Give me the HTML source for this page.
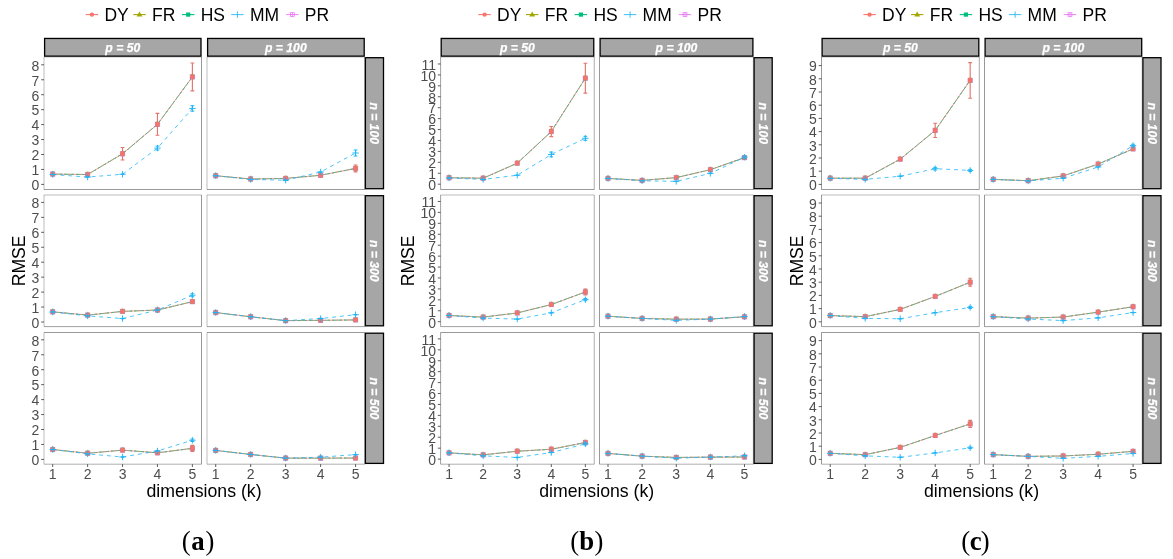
<!DOCTYPE html>
<html lang="en">
<head>
<meta charset="utf-8">
<title>RMSE vs dimensions (k)</title>
<style>
html,body{margin:0;padding:0;background:#fff;}
body{width:1173px;height:559px;overflow:hidden;}
svg{display:block;}
</style>
</head>
<body>
<svg width="1173" height="559" viewBox="0 0 1173 559">
<rect width="1173" height="559" fill="#fff"/>
<g font-family="'Liberation Sans', Arial, Helvetica, sans-serif" font-size="17.5" fill="#000">
<line x1="85.7" y1="14.6" x2="98.1" y2="14.6" stroke="#F8766D" stroke-width="1.1"/>
<circle cx="91.9" cy="14.6" r="2.2" fill="#F8766D"/>
<text x="104.4" y="20.9">DY</text>
<line x1="133.3" y1="14.6" x2="145.7" y2="14.6" stroke="#A3A500" stroke-width="1.1"/>
<path d="M139.5 11.6L142.4 16.5L136.6 16.5Z" fill="#A3A500"/>
<text x="152" y="20.9">FR</text>
<line x1="182" y1="14.6" x2="194.4" y2="14.6" stroke="#00BF7D" stroke-width="1.1"/>
<rect x="186.1" y="12.5" width="4.2" height="4.2" fill="#00BF7D"/>
<text x="200.7" y="20.9">HS</text>
<line x1="231.2" y1="14.6" x2="243.6" y2="14.6" stroke="#1FB5F6" stroke-width="0.85"/>
<line x1="237.4" y1="11.4" x2="237.4" y2="17.8" stroke="#1FB5F6" stroke-width="0.85"/>
<text x="249.9" y="20.9">MM</text>
<line x1="286.1" y1="14.6" x2="298.5" y2="14.6" stroke="#E76BF3" stroke-width="0.85"/>
<rect x="290.4" y="12.7" width="3.8" height="3.8" fill="none" stroke="#E76BF3" stroke-width="0.7"/>
<line x1="292.3" y1="12.7" x2="292.3" y2="16.5" stroke="#E76BF3" stroke-width="0.7"/>
<text x="304.8" y="20.9">PR</text>
</g>
<rect x="44.6" y="38.45" width="156.4" height="17.7" fill="#a6a6a6" stroke="#000" stroke-width="1.3"/>
<text x="122.75" y="51.6" text-anchor="middle" font-family="'Liberation Sans', Arial, Helvetica, sans-serif" font-size="12.2" font-weight="bold" font-style="italic" fill="#fff" stroke="#fff" stroke-width="0.25">p = 50</text>
<rect x="207.6" y="38.45" width="156.6" height="17.7" fill="#a6a6a6" stroke="#000" stroke-width="1.3"/>
<text x="285.85" y="51.6" text-anchor="middle" font-family="'Liberation Sans', Arial, Helvetica, sans-serif" font-size="12.2" font-weight="bold" font-style="italic" fill="#fff" stroke="#fff" stroke-width="0.25">p = 100</text>
<rect x="365.4" y="57.7" width="18.1" height="131" fill="#a6a6a6" stroke="#000" stroke-width="1.3"/>
<text transform="translate(370.15 123.25) rotate(90)" text-anchor="middle" font-family="'Liberation Sans', Arial, Helvetica, sans-serif" font-size="12.2" font-weight="bold" font-style="italic" fill="#fff" stroke="#fff" stroke-width="0.25">n = 100</text>
<rect x="365.4" y="195.7" width="18.1" height="130.1" fill="#a6a6a6" stroke="#000" stroke-width="1.3"/>
<text transform="translate(370.15 260.8) rotate(90)" text-anchor="middle" font-family="'Liberation Sans', Arial, Helvetica, sans-serif" font-size="12.2" font-weight="bold" font-style="italic" fill="#fff" stroke="#fff" stroke-width="0.25">n = 300</text>
<rect x="365.4" y="333.2" width="18.1" height="130.2" fill="#a6a6a6" stroke="#000" stroke-width="1.3"/>
<text transform="translate(370.15 398.35) rotate(90)" text-anchor="middle" font-family="'Liberation Sans', Arial, Helvetica, sans-serif" font-size="12.2" font-weight="bold" font-style="italic" fill="#fff" stroke="#fff" stroke-width="0.25">n = 500</text>
<path d="M44 57V189.5" stroke="#333" stroke-width="0.33"/>
<path d="M201.5 57V189.5" stroke="#333" stroke-width="0.5"/>
<path d="M44 57H201.5" stroke="#333" stroke-width="0.33"/>
<path d="M44 189.5H201.5" stroke="#333" stroke-width="0.5"/>
<polyline points="52.7,174.08 87.62,174.53 122.54,153.75 157.46,124.3 192.39,76.91" fill="none" stroke="#F8766D" stroke-width="0.66"/>
<polyline points="52.7,174.08 87.62,174.53 122.54,153.75 157.46,124.3 192.39,76.91" fill="none" stroke="#A3A500" stroke-width="0.66" stroke-dasharray="1.95 1.95"/>
<polyline points="52.7,174.08 87.62,174.53 122.54,153.75 157.46,124.3 192.39,76.91" fill="none" stroke="#00BF7D" stroke-width="0.66" stroke-dasharray="3.9 1.95"/>
<polyline points="52.7,174.53 87.62,177.07 122.54,174.23 157.46,148.07 192.39,108.45" fill="none" stroke="#1FB5F6" stroke-width="0.8" stroke-dasharray="3.9 3.9"/>
<polyline points="52.7,174.08 87.62,174.53 122.54,153.75 157.46,124.3 192.39,76.91" fill="none" stroke="#E76BF3" stroke-width="0.66" stroke-dasharray="0.98 2.93"/>
<rect x="50" y="171.38" width="5.4" height="5.4" fill="#E76BF3" fill-opacity="0.4"/>
<path d="M52.7 170.38L54.2 171.88L51.2 171.88Z" fill="#A3A500" fill-opacity="0.45"/>
<rect x="50.4" y="171.68" width="4.6" height="4.8" fill="#5E8FA0" fill-opacity="0.75"/>
<rect x="50.5" y="171.68" width="4.4" height="4.8" rx="1.3" fill="#F5736B"/>
<rect x="84.92" y="171.83" width="5.4" height="5.4" fill="#E76BF3" fill-opacity="0.4"/>
<path d="M87.62 170.83L89.12 172.33L86.12 172.33Z" fill="#A3A500" fill-opacity="0.45"/>
<rect x="85.32" y="172.13" width="4.6" height="4.8" fill="#5E8FA0" fill-opacity="0.75"/>
<rect x="85.42" y="172.13" width="4.4" height="4.8" rx="1.3" fill="#F5736B"/>
<path d="M120.64 147.47H124.44M120.64 160.03H124.44M122.54 147.47V160.03" stroke="#E2766C" stroke-width="1.15" fill="none"/>
<rect x="119.84" y="151.05" width="5.4" height="5.4" fill="#E76BF3" fill-opacity="0.4"/>
<path d="M122.54 150.05L124.04 151.55L121.04 151.55Z" fill="#A3A500" fill-opacity="0.45"/>
<rect x="120.24" y="151.35" width="4.6" height="4.8" fill="#5E8FA0" fill-opacity="0.75"/>
<rect x="120.34" y="151.35" width="4.4" height="4.8" rx="1.3" fill="#F5736B"/>
<path d="M155.56 113.39H159.36M155.56 135.21H159.36M157.46 113.39V135.21" stroke="#E2766C" stroke-width="1.15" fill="none"/>
<rect x="154.76" y="121.6" width="5.4" height="5.4" fill="#E76BF3" fill-opacity="0.4"/>
<path d="M157.46 120.6L158.96 122.1L155.96 122.1Z" fill="#A3A500" fill-opacity="0.45"/>
<rect x="155.16" y="121.9" width="4.6" height="4.8" fill="#5E8FA0" fill-opacity="0.75"/>
<rect x="155.26" y="121.9" width="4.4" height="4.8" rx="1.3" fill="#F5736B"/>
<path d="M190.49 63.01H194.29M190.49 90.81H194.29M192.39 63.01V90.81" stroke="#E2766C" stroke-width="1.15" fill="none"/>
<rect x="189.69" y="74.21" width="5.4" height="5.4" fill="#E76BF3" fill-opacity="0.4"/>
<path d="M192.39 73.21L193.89 74.71L190.89 74.71Z" fill="#A3A500" fill-opacity="0.45"/>
<rect x="190.09" y="74.51" width="4.6" height="4.8" fill="#5E8FA0" fill-opacity="0.75"/>
<rect x="190.19" y="74.51" width="4.4" height="4.8" rx="1.3" fill="#F5736B"/>
<path d="M51.1 174.53H54.3" stroke="#1FB5F6" stroke-width="1.4" fill="none"/>
<path d="M49.5 174.53H55.9M52.7 171.33V177.73" stroke="#1FB5F6" stroke-width="0.95" fill="none"/>
<path d="M86.02 177.07H89.22" stroke="#1FB5F6" stroke-width="1.4" fill="none"/>
<path d="M84.42 177.07H90.82M87.62 173.87V180.27" stroke="#1FB5F6" stroke-width="0.95" fill="none"/>
<path d="M120.94 174.23H124.14" stroke="#1FB5F6" stroke-width="1.4" fill="none"/>
<path d="M119.34 174.23H125.74M122.54 171.03V177.43" stroke="#1FB5F6" stroke-width="0.95" fill="none"/>
<path d="M155.56 146.13H159.36M155.56 150.02H159.36M157.46 146.13V150.02" stroke="#1FB5F6" stroke-width="1" fill="none"/>
<path d="M154.26 148.07H160.66M157.46 144.87V151.27" stroke="#1FB5F6" stroke-width="0.95" fill="none"/>
<path d="M190.49 105.76H194.29M190.49 111.15H194.29M192.39 105.76V111.15" stroke="#1FB5F6" stroke-width="1" fill="none"/>
<path d="M189.19 108.45H195.59M192.39 105.25V111.65" stroke="#1FB5F6" stroke-width="0.95" fill="none"/>
<g font-family="'Liberation Sans', Arial, Helvetica, sans-serif" font-size="14" fill="#4d4d4d" text-anchor="end">
<line x1="41.2" y1="184.4" x2="44" y2="184.4" stroke="#333" stroke-width="0.8"/>
<text x="39.4" y="190.2">0</text>
<line x1="41.2" y1="169.45" x2="44" y2="169.45" stroke="#333" stroke-width="0.8"/>
<text x="39.4" y="175.25">1</text>
<line x1="41.2" y1="154.5" x2="44" y2="154.5" stroke="#333" stroke-width="0.8"/>
<text x="39.4" y="160.3">2</text>
<line x1="41.2" y1="139.55" x2="44" y2="139.55" stroke="#333" stroke-width="0.8"/>
<text x="39.4" y="145.35">3</text>
<line x1="41.2" y1="124.6" x2="44" y2="124.6" stroke="#333" stroke-width="0.8"/>
<text x="39.4" y="130.4">4</text>
<line x1="41.2" y1="109.65" x2="44" y2="109.65" stroke="#333" stroke-width="0.8"/>
<text x="39.4" y="115.45">5</text>
<line x1="41.2" y1="94.7" x2="44" y2="94.7" stroke="#333" stroke-width="0.8"/>
<text x="39.4" y="100.5">6</text>
<line x1="41.2" y1="79.75" x2="44" y2="79.75" stroke="#333" stroke-width="0.8"/>
<text x="39.4" y="85.55">7</text>
<line x1="41.2" y1="64.8" x2="44" y2="64.8" stroke="#333" stroke-width="0.8"/>
<text x="39.4" y="70.6">8</text>
</g>
<path d="M207 57V189.5" stroke="#333" stroke-width="0.33"/>
<path d="M364.7 57V189.5" stroke="#333" stroke-width="0.43"/>
<path d="M207 57H364.7" stroke="#333" stroke-width="0.33"/>
<path d="M207 189.5H364.7" stroke="#333" stroke-width="0.5"/>
<polyline points="215.71,175.73 250.67,179.02 285.64,178.42 320.61,175.28 355.57,168.4" fill="none" stroke="#F8766D" stroke-width="0.66"/>
<polyline points="215.71,175.73 250.67,179.02 285.64,178.42 320.61,175.28 355.57,168.4" fill="none" stroke="#A3A500" stroke-width="0.66" stroke-dasharray="1.95 1.95"/>
<polyline points="215.71,175.73 250.67,179.02 285.64,178.42 320.61,175.28 355.57,168.4" fill="none" stroke="#00BF7D" stroke-width="0.66" stroke-dasharray="3.9 1.95"/>
<polyline points="215.71,175.73 250.67,179.47 285.64,180.21 320.61,171.99 355.57,153" fill="none" stroke="#1FB5F6" stroke-width="0.8" stroke-dasharray="3.9 3.9"/>
<polyline points="215.71,175.73 250.67,179.02 285.64,178.42 320.61,175.28 355.57,168.4" fill="none" stroke="#E76BF3" stroke-width="0.66" stroke-dasharray="0.98 2.93"/>
<rect x="213.01" y="173.03" width="5.4" height="5.4" fill="#E76BF3" fill-opacity="0.4"/>
<path d="M215.71 172.03L217.21 173.53L214.21 173.53Z" fill="#A3A500" fill-opacity="0.45"/>
<rect x="213.41" y="173.33" width="4.6" height="4.8" fill="#5E8FA0" fill-opacity="0.75"/>
<rect x="213.51" y="173.33" width="4.4" height="4.8" rx="1.3" fill="#F5736B"/>
<rect x="247.97" y="176.32" width="5.4" height="5.4" fill="#E76BF3" fill-opacity="0.4"/>
<path d="M250.67 175.32L252.17 176.82L249.17 176.82Z" fill="#A3A500" fill-opacity="0.45"/>
<rect x="248.37" y="176.62" width="4.6" height="4.8" fill="#5E8FA0" fill-opacity="0.75"/>
<rect x="248.47" y="176.62" width="4.4" height="4.8" rx="1.3" fill="#F5736B"/>
<rect x="282.94" y="175.72" width="5.4" height="5.4" fill="#E76BF3" fill-opacity="0.4"/>
<path d="M285.64 174.72L287.14 176.22L284.14 176.22Z" fill="#A3A500" fill-opacity="0.45"/>
<rect x="283.34" y="176.02" width="4.6" height="4.8" fill="#5E8FA0" fill-opacity="0.75"/>
<rect x="283.44" y="176.02" width="4.4" height="4.8" rx="1.3" fill="#F5736B"/>
<rect x="317.91" y="172.58" width="5.4" height="5.4" fill="#E76BF3" fill-opacity="0.4"/>
<path d="M320.61 171.58L322.11 173.08L319.11 173.08Z" fill="#A3A500" fill-opacity="0.45"/>
<rect x="318.31" y="172.88" width="4.6" height="4.8" fill="#5E8FA0" fill-opacity="0.75"/>
<rect x="318.41" y="172.88" width="4.4" height="4.8" rx="1.3" fill="#F5736B"/>
<path d="M353.67 164.97H357.47M353.67 171.84H357.47M355.57 164.97V171.84" stroke="#E2766C" stroke-width="1.15" fill="none"/>
<rect x="352.87" y="165.7" width="5.4" height="5.4" fill="#E76BF3" fill-opacity="0.4"/>
<path d="M355.57 164.7L357.07 166.2L354.07 166.2Z" fill="#A3A500" fill-opacity="0.45"/>
<rect x="353.27" y="166" width="4.6" height="4.8" fill="#5E8FA0" fill-opacity="0.75"/>
<rect x="353.37" y="166" width="4.4" height="4.8" rx="1.3" fill="#F5736B"/>
<path d="M214.11 175.73H217.31" stroke="#1FB5F6" stroke-width="1.4" fill="none"/>
<path d="M212.51 175.73H218.91M215.71 172.53V178.93" stroke="#1FB5F6" stroke-width="0.95" fill="none"/>
<path d="M249.07 179.47H252.27" stroke="#1FB5F6" stroke-width="1.4" fill="none"/>
<path d="M247.47 179.47H253.87M250.67 176.27V182.67" stroke="#1FB5F6" stroke-width="0.95" fill="none"/>
<path d="M284.04 180.21H287.24" stroke="#1FB5F6" stroke-width="1.4" fill="none"/>
<path d="M282.44 180.21H288.84M285.64 177.01V183.41" stroke="#1FB5F6" stroke-width="0.95" fill="none"/>
<path d="M319.01 171.99H322.21" stroke="#1FB5F6" stroke-width="1.4" fill="none"/>
<path d="M317.41 171.99H323.81M320.61 168.79V175.19" stroke="#1FB5F6" stroke-width="0.95" fill="none"/>
<path d="M353.67 150.01H357.47M353.67 156H357.47M355.57 150.01V156" stroke="#1FB5F6" stroke-width="1" fill="none"/>
<path d="M352.37 153H358.77M355.57 149.81V156.2" stroke="#1FB5F6" stroke-width="0.95" fill="none"/>
<path d="M44 195V326.6" stroke="#333" stroke-width="0.33"/>
<path d="M201.5 195V326.6" stroke="#333" stroke-width="0.5"/>
<path d="M44 195H201.5" stroke="#333" stroke-width="0.33"/>
<path d="M44 326.6H201.5" stroke="#333" stroke-width="0.47"/>
<polyline points="52.7,311.83 87.62,315.12 122.54,311.39 157.46,310.04 192.39,301.67" fill="none" stroke="#F8766D" stroke-width="0.66"/>
<polyline points="52.7,311.83 87.62,315.12 122.54,311.39 157.46,310.04 192.39,301.67" fill="none" stroke="#A3A500" stroke-width="0.66" stroke-dasharray="1.95 1.95"/>
<polyline points="52.7,311.83 87.62,315.12 122.54,311.39 157.46,310.04 192.39,301.67" fill="none" stroke="#00BF7D" stroke-width="0.66" stroke-dasharray="3.9 1.95"/>
<polyline points="52.7,311.98 87.62,315.87 122.54,318.56 157.46,310.04 192.39,295.24" fill="none" stroke="#1FB5F6" stroke-width="0.8" stroke-dasharray="3.9 3.9"/>
<polyline points="52.7,311.83 87.62,315.12 122.54,311.39 157.46,310.04 192.39,301.67" fill="none" stroke="#E76BF3" stroke-width="0.66" stroke-dasharray="0.98 2.93"/>
<rect x="50" y="309.13" width="5.4" height="5.4" fill="#E76BF3" fill-opacity="0.4"/>
<path d="M52.7 308.13L54.2 309.63L51.2 309.63Z" fill="#A3A500" fill-opacity="0.45"/>
<rect x="50.4" y="309.43" width="4.6" height="4.8" fill="#5E8FA0" fill-opacity="0.75"/>
<rect x="50.5" y="309.43" width="4.4" height="4.8" rx="1.3" fill="#F5736B"/>
<rect x="84.92" y="312.42" width="5.4" height="5.4" fill="#E76BF3" fill-opacity="0.4"/>
<path d="M87.62 311.42L89.12 312.92L86.12 312.92Z" fill="#A3A500" fill-opacity="0.45"/>
<rect x="85.32" y="312.72" width="4.6" height="4.8" fill="#5E8FA0" fill-opacity="0.75"/>
<rect x="85.42" y="312.72" width="4.4" height="4.8" rx="1.3" fill="#F5736B"/>
<rect x="119.84" y="308.69" width="5.4" height="5.4" fill="#E76BF3" fill-opacity="0.4"/>
<path d="M122.54 307.69L124.04 309.19L121.04 309.19Z" fill="#A3A500" fill-opacity="0.45"/>
<rect x="120.24" y="308.99" width="4.6" height="4.8" fill="#5E8FA0" fill-opacity="0.75"/>
<rect x="120.34" y="308.99" width="4.4" height="4.8" rx="1.3" fill="#F5736B"/>
<rect x="154.76" y="307.34" width="5.4" height="5.4" fill="#E76BF3" fill-opacity="0.4"/>
<path d="M157.46 306.34L158.96 307.84L155.96 307.84Z" fill="#A3A500" fill-opacity="0.45"/>
<rect x="155.16" y="307.64" width="4.6" height="4.8" fill="#5E8FA0" fill-opacity="0.75"/>
<rect x="155.26" y="307.64" width="4.4" height="4.8" rx="1.3" fill="#F5736B"/>
<path d="M190.49 299.87H194.29M190.49 303.46H194.29M192.39 299.87V303.46" stroke="#E2766C" stroke-width="1.15" fill="none"/>
<rect x="189.69" y="298.97" width="5.4" height="5.4" fill="#E76BF3" fill-opacity="0.4"/>
<path d="M192.39 297.97L193.89 299.47L190.89 299.47Z" fill="#A3A500" fill-opacity="0.45"/>
<rect x="190.09" y="299.27" width="4.6" height="4.8" fill="#5E8FA0" fill-opacity="0.75"/>
<rect x="190.19" y="299.27" width="4.4" height="4.8" rx="1.3" fill="#F5736B"/>
<path d="M51.1 311.98H54.3" stroke="#1FB5F6" stroke-width="1.4" fill="none"/>
<path d="M49.5 311.98H55.9M52.7 308.78V315.18" stroke="#1FB5F6" stroke-width="0.95" fill="none"/>
<path d="M86.02 315.87H89.22" stroke="#1FB5F6" stroke-width="1.4" fill="none"/>
<path d="M84.42 315.87H90.82M87.62 312.67V319.07" stroke="#1FB5F6" stroke-width="0.95" fill="none"/>
<path d="M120.94 318.56H124.14" stroke="#1FB5F6" stroke-width="1.4" fill="none"/>
<path d="M119.34 318.56H125.74M122.54 315.36V321.76" stroke="#1FB5F6" stroke-width="0.95" fill="none"/>
<path d="M155.86 310.04H159.06" stroke="#1FB5F6" stroke-width="1.4" fill="none"/>
<path d="M154.26 310.04H160.66M157.46 306.84V313.24" stroke="#1FB5F6" stroke-width="0.95" fill="none"/>
<path d="M190.49 293.74H194.29M190.49 296.73H194.29M192.39 293.74V296.73" stroke="#1FB5F6" stroke-width="1" fill="none"/>
<path d="M189.19 295.24H195.59M192.39 292.04V298.44" stroke="#1FB5F6" stroke-width="0.95" fill="none"/>
<g font-family="'Liberation Sans', Arial, Helvetica, sans-serif" font-size="14" fill="#4d4d4d" text-anchor="end">
<line x1="41.2" y1="322" x2="44" y2="322" stroke="#333" stroke-width="0.8"/>
<text x="39.4" y="327.8">0</text>
<line x1="41.2" y1="307.05" x2="44" y2="307.05" stroke="#333" stroke-width="0.8"/>
<text x="39.4" y="312.85">1</text>
<line x1="41.2" y1="292.1" x2="44" y2="292.1" stroke="#333" stroke-width="0.8"/>
<text x="39.4" y="297.9">2</text>
<line x1="41.2" y1="277.15" x2="44" y2="277.15" stroke="#333" stroke-width="0.8"/>
<text x="39.4" y="282.95">3</text>
<line x1="41.2" y1="262.2" x2="44" y2="262.2" stroke="#333" stroke-width="0.8"/>
<text x="39.4" y="268">4</text>
<line x1="41.2" y1="247.25" x2="44" y2="247.25" stroke="#333" stroke-width="0.8"/>
<text x="39.4" y="253.05">5</text>
<line x1="41.2" y1="232.3" x2="44" y2="232.3" stroke="#333" stroke-width="0.8"/>
<text x="39.4" y="238.1">6</text>
<line x1="41.2" y1="217.35" x2="44" y2="217.35" stroke="#333" stroke-width="0.8"/>
<text x="39.4" y="223.15">7</text>
<line x1="41.2" y1="202.4" x2="44" y2="202.4" stroke="#333" stroke-width="0.8"/>
<text x="39.4" y="208.2">8</text>
</g>
<path d="M207 195V326.6" stroke="#333" stroke-width="0.33"/>
<path d="M364.7 195V326.6" stroke="#333" stroke-width="0.43"/>
<path d="M207 195H364.7" stroke="#333" stroke-width="0.33"/>
<path d="M207 326.6H364.7" stroke="#333" stroke-width="0.47"/>
<polyline points="215.71,312.58 250.67,316.77 285.64,320.65 320.61,320.36 355.57,319.91" fill="none" stroke="#F8766D" stroke-width="0.66"/>
<polyline points="215.71,312.58 250.67,316.77 285.64,320.65 320.61,320.36 355.57,319.91" fill="none" stroke="#A3A500" stroke-width="0.66" stroke-dasharray="1.95 1.95"/>
<polyline points="215.71,312.58 250.67,316.77 285.64,320.65 320.61,320.36 355.57,319.91" fill="none" stroke="#00BF7D" stroke-width="0.66" stroke-dasharray="3.9 1.95"/>
<polyline points="215.71,312.58 250.67,316.77 285.64,320.65 320.61,318.56 355.57,314.67" fill="none" stroke="#1FB5F6" stroke-width="0.8" stroke-dasharray="3.9 3.9"/>
<polyline points="215.71,312.58 250.67,316.77 285.64,320.65 320.61,320.36 355.57,319.91" fill="none" stroke="#E76BF3" stroke-width="0.66" stroke-dasharray="0.98 2.93"/>
<rect x="213.01" y="309.88" width="5.4" height="5.4" fill="#E76BF3" fill-opacity="0.4"/>
<path d="M215.71 308.88L217.21 310.38L214.21 310.38Z" fill="#A3A500" fill-opacity="0.45"/>
<rect x="213.41" y="310.18" width="4.6" height="4.8" fill="#5E8FA0" fill-opacity="0.75"/>
<rect x="213.51" y="310.18" width="4.4" height="4.8" rx="1.3" fill="#F5736B"/>
<rect x="247.97" y="314.07" width="5.4" height="5.4" fill="#E76BF3" fill-opacity="0.4"/>
<path d="M250.67 313.07L252.17 314.57L249.17 314.57Z" fill="#A3A500" fill-opacity="0.45"/>
<rect x="248.37" y="314.37" width="4.6" height="4.8" fill="#5E8FA0" fill-opacity="0.75"/>
<rect x="248.47" y="314.37" width="4.4" height="4.8" rx="1.3" fill="#F5736B"/>
<rect x="282.94" y="317.95" width="5.4" height="5.4" fill="#E76BF3" fill-opacity="0.4"/>
<path d="M285.64 316.95L287.14 318.45L284.14 318.45Z" fill="#A3A500" fill-opacity="0.45"/>
<rect x="283.34" y="318.25" width="4.6" height="4.8" fill="#5E8FA0" fill-opacity="0.75"/>
<rect x="283.44" y="318.25" width="4.4" height="4.8" rx="1.3" fill="#F5736B"/>
<rect x="317.91" y="317.66" width="5.4" height="5.4" fill="#E76BF3" fill-opacity="0.4"/>
<path d="M320.61 316.66L322.11 318.16L319.11 318.16Z" fill="#A3A500" fill-opacity="0.45"/>
<rect x="318.31" y="317.96" width="4.6" height="4.8" fill="#5E8FA0" fill-opacity="0.75"/>
<rect x="318.41" y="317.96" width="4.4" height="4.8" rx="1.3" fill="#F5736B"/>
<rect x="352.87" y="317.21" width="5.4" height="5.4" fill="#E76BF3" fill-opacity="0.4"/>
<path d="M355.57 316.21L357.07 317.71L354.07 317.71Z" fill="#A3A500" fill-opacity="0.45"/>
<rect x="353.27" y="317.51" width="4.6" height="4.8" fill="#5E8FA0" fill-opacity="0.75"/>
<rect x="353.37" y="317.51" width="4.4" height="4.8" rx="1.3" fill="#F5736B"/>
<path d="M214.11 312.58H217.31" stroke="#1FB5F6" stroke-width="1.4" fill="none"/>
<path d="M212.51 312.58H218.91M215.71 309.38V315.78" stroke="#1FB5F6" stroke-width="0.95" fill="none"/>
<path d="M249.07 316.77H252.27" stroke="#1FB5F6" stroke-width="1.4" fill="none"/>
<path d="M247.47 316.77H253.87M250.67 313.57V319.97" stroke="#1FB5F6" stroke-width="0.95" fill="none"/>
<path d="M284.04 320.65H287.24" stroke="#1FB5F6" stroke-width="1.4" fill="none"/>
<path d="M282.44 320.65H288.84M285.64 317.45V323.85" stroke="#1FB5F6" stroke-width="0.95" fill="none"/>
<path d="M319.01 318.56H322.21" stroke="#1FB5F6" stroke-width="1.4" fill="none"/>
<path d="M317.41 318.56H323.81M320.61 315.36V321.76" stroke="#1FB5F6" stroke-width="0.95" fill="none"/>
<path d="M353.97 314.67H357.17" stroke="#1FB5F6" stroke-width="1.4" fill="none"/>
<path d="M352.37 314.67H358.77M355.57 311.47V317.87" stroke="#1FB5F6" stroke-width="0.95" fill="none"/>
<path d="M44 332.5V464.2" stroke="#333" stroke-width="0.33"/>
<path d="M201.5 332.5V464.2" stroke="#333" stroke-width="0.5"/>
<path d="M44 332.5H201.5" stroke="#333" stroke-width="0.5"/>
<path d="M44 464.2H201.5" stroke="#333" stroke-width="0.4"/>
<polyline points="52.7,449.53 87.62,453.27 122.54,450.13 157.46,452.82 192.39,448.34" fill="none" stroke="#F8766D" stroke-width="0.66"/>
<polyline points="52.7,449.53 87.62,453.27 122.54,450.13 157.46,452.82 192.39,448.34" fill="none" stroke="#A3A500" stroke-width="0.66" stroke-dasharray="1.95 1.95"/>
<polyline points="52.7,449.53 87.62,453.27 122.54,450.13 157.46,452.82 192.39,448.34" fill="none" stroke="#00BF7D" stroke-width="0.66" stroke-dasharray="3.9 1.95"/>
<polyline points="52.7,449.53 87.62,453.87 122.54,457.01 157.46,451.03 192.39,440.26" fill="none" stroke="#1FB5F6" stroke-width="0.8" stroke-dasharray="3.9 3.9"/>
<polyline points="52.7,449.53 87.62,453.27 122.54,450.13 157.46,452.82 192.39,448.34" fill="none" stroke="#E76BF3" stroke-width="0.66" stroke-dasharray="0.98 2.93"/>
<rect x="50" y="446.83" width="5.4" height="5.4" fill="#E76BF3" fill-opacity="0.4"/>
<path d="M52.7 445.83L54.2 447.33L51.2 447.33Z" fill="#A3A500" fill-opacity="0.45"/>
<rect x="50.4" y="447.13" width="4.6" height="4.8" fill="#5E8FA0" fill-opacity="0.75"/>
<rect x="50.5" y="447.13" width="4.4" height="4.8" rx="1.3" fill="#F5736B"/>
<rect x="84.92" y="450.57" width="5.4" height="5.4" fill="#E76BF3" fill-opacity="0.4"/>
<path d="M87.62 449.57L89.12 451.07L86.12 451.07Z" fill="#A3A500" fill-opacity="0.45"/>
<rect x="85.32" y="450.87" width="4.6" height="4.8" fill="#5E8FA0" fill-opacity="0.75"/>
<rect x="85.42" y="450.87" width="4.4" height="4.8" rx="1.3" fill="#F5736B"/>
<rect x="119.84" y="447.43" width="5.4" height="5.4" fill="#E76BF3" fill-opacity="0.4"/>
<path d="M122.54 446.43L124.04 447.93L121.04 447.93Z" fill="#A3A500" fill-opacity="0.45"/>
<rect x="120.24" y="447.73" width="4.6" height="4.8" fill="#5E8FA0" fill-opacity="0.75"/>
<rect x="120.34" y="447.73" width="4.4" height="4.8" rx="1.3" fill="#F5736B"/>
<rect x="154.76" y="450.12" width="5.4" height="5.4" fill="#E76BF3" fill-opacity="0.4"/>
<path d="M157.46 449.12L158.96 450.62L155.96 450.62Z" fill="#A3A500" fill-opacity="0.45"/>
<rect x="155.16" y="450.42" width="4.6" height="4.8" fill="#5E8FA0" fill-opacity="0.75"/>
<rect x="155.26" y="450.42" width="4.4" height="4.8" rx="1.3" fill="#F5736B"/>
<path d="M190.49 445.35H194.29M190.49 451.33H194.29M192.39 445.35V451.33" stroke="#E2766C" stroke-width="1.15" fill="none"/>
<rect x="189.69" y="445.64" width="5.4" height="5.4" fill="#E76BF3" fill-opacity="0.4"/>
<path d="M192.39 444.64L193.89 446.14L190.89 446.14Z" fill="#A3A500" fill-opacity="0.45"/>
<rect x="190.09" y="445.94" width="4.6" height="4.8" fill="#5E8FA0" fill-opacity="0.75"/>
<rect x="190.19" y="445.94" width="4.4" height="4.8" rx="1.3" fill="#F5736B"/>
<path d="M51.1 449.53H54.3" stroke="#1FB5F6" stroke-width="1.4" fill="none"/>
<path d="M49.5 449.53H55.9M52.7 446.33V452.73" stroke="#1FB5F6" stroke-width="0.95" fill="none"/>
<path d="M86.02 453.87H89.22" stroke="#1FB5F6" stroke-width="1.4" fill="none"/>
<path d="M84.42 453.87H90.82M87.62 450.67V457.07" stroke="#1FB5F6" stroke-width="0.95" fill="none"/>
<path d="M120.94 457.01H124.14" stroke="#1FB5F6" stroke-width="1.4" fill="none"/>
<path d="M119.34 457.01H125.74M122.54 453.81V460.21" stroke="#1FB5F6" stroke-width="0.95" fill="none"/>
<path d="M155.86 451.03H159.06" stroke="#1FB5F6" stroke-width="1.4" fill="none"/>
<path d="M154.26 451.03H160.66M157.46 447.83V454.23" stroke="#1FB5F6" stroke-width="0.95" fill="none"/>
<path d="M190.49 439.07H194.29M190.49 441.46H194.29M192.39 439.07V441.46" stroke="#1FB5F6" stroke-width="1" fill="none"/>
<path d="M189.19 440.26H195.59M192.39 437.06V443.46" stroke="#1FB5F6" stroke-width="0.95" fill="none"/>
<g font-family="'Liberation Sans', Arial, Helvetica, sans-serif" font-size="14" fill="#4d4d4d" text-anchor="end">
<line x1="41.2" y1="459.4" x2="44" y2="459.4" stroke="#333" stroke-width="0.8"/>
<text x="39.4" y="465.2">0</text>
<line x1="41.2" y1="444.45" x2="44" y2="444.45" stroke="#333" stroke-width="0.8"/>
<text x="39.4" y="450.25">1</text>
<line x1="41.2" y1="429.5" x2="44" y2="429.5" stroke="#333" stroke-width="0.8"/>
<text x="39.4" y="435.3">2</text>
<line x1="41.2" y1="414.55" x2="44" y2="414.55" stroke="#333" stroke-width="0.8"/>
<text x="39.4" y="420.35">3</text>
<line x1="41.2" y1="399.6" x2="44" y2="399.6" stroke="#333" stroke-width="0.8"/>
<text x="39.4" y="405.4">4</text>
<line x1="41.2" y1="384.65" x2="44" y2="384.65" stroke="#333" stroke-width="0.8"/>
<text x="39.4" y="390.45">5</text>
<line x1="41.2" y1="369.7" x2="44" y2="369.7" stroke="#333" stroke-width="0.8"/>
<text x="39.4" y="375.5">6</text>
<line x1="41.2" y1="354.75" x2="44" y2="354.75" stroke="#333" stroke-width="0.8"/>
<text x="39.4" y="360.55">7</text>
<line x1="41.2" y1="339.8" x2="44" y2="339.8" stroke="#333" stroke-width="0.8"/>
<text x="39.4" y="345.6">8</text>
</g>
<g font-family="'Liberation Sans', Arial, Helvetica, sans-serif" font-size="14" fill="#4d4d4d" text-anchor="middle">
<line x1="52.7" y1="464.2" x2="52.7" y2="467" stroke="#333" stroke-width="0.8"/>
<text x="52.7" y="479.4">1</text>
<line x1="87.62" y1="464.2" x2="87.62" y2="467" stroke="#333" stroke-width="0.8"/>
<text x="87.62" y="479.4">2</text>
<line x1="122.54" y1="464.2" x2="122.54" y2="467" stroke="#333" stroke-width="0.8"/>
<text x="122.54" y="479.4">3</text>
<line x1="157.46" y1="464.2" x2="157.46" y2="467" stroke="#333" stroke-width="0.8"/>
<text x="157.46" y="479.4">4</text>
<line x1="192.39" y1="464.2" x2="192.39" y2="467" stroke="#333" stroke-width="0.8"/>
<text x="192.39" y="479.4">5</text>
</g>
<path d="M207 332.5V464.2" stroke="#333" stroke-width="0.33"/>
<path d="M364.7 332.5V464.2" stroke="#333" stroke-width="0.43"/>
<path d="M207 332.5H364.7" stroke="#333" stroke-width="0.5"/>
<path d="M207 464.2H364.7" stroke="#333" stroke-width="0.4"/>
<polyline points="215.71,450.43 250.67,454.47 285.64,458.13 320.61,458.13 355.57,458.05" fill="none" stroke="#F8766D" stroke-width="0.66"/>
<polyline points="215.71,450.43 250.67,454.47 285.64,458.13 320.61,458.13 355.57,458.05" fill="none" stroke="#A3A500" stroke-width="0.66" stroke-dasharray="1.95 1.95"/>
<polyline points="215.71,450.43 250.67,454.47 285.64,458.13 320.61,458.13 355.57,458.05" fill="none" stroke="#00BF7D" stroke-width="0.66" stroke-dasharray="3.9 1.95"/>
<polyline points="215.71,450.43 250.67,454.47 285.64,458.13 320.61,457.16 355.57,454.62" fill="none" stroke="#1FB5F6" stroke-width="0.8" stroke-dasharray="3.9 3.9"/>
<polyline points="215.71,450.43 250.67,454.47 285.64,458.13 320.61,458.13 355.57,458.05" fill="none" stroke="#E76BF3" stroke-width="0.66" stroke-dasharray="0.98 2.93"/>
<rect x="213.01" y="447.73" width="5.4" height="5.4" fill="#E76BF3" fill-opacity="0.4"/>
<path d="M215.71 446.73L217.21 448.23L214.21 448.23Z" fill="#A3A500" fill-opacity="0.45"/>
<rect x="213.41" y="448.03" width="4.6" height="4.8" fill="#5E8FA0" fill-opacity="0.75"/>
<rect x="213.51" y="448.03" width="4.4" height="4.8" rx="1.3" fill="#F5736B"/>
<rect x="247.97" y="451.77" width="5.4" height="5.4" fill="#E76BF3" fill-opacity="0.4"/>
<path d="M250.67 450.77L252.17 452.27L249.17 452.27Z" fill="#A3A500" fill-opacity="0.45"/>
<rect x="248.37" y="452.07" width="4.6" height="4.8" fill="#5E8FA0" fill-opacity="0.75"/>
<rect x="248.47" y="452.07" width="4.4" height="4.8" rx="1.3" fill="#F5736B"/>
<rect x="282.94" y="455.43" width="5.4" height="5.4" fill="#E76BF3" fill-opacity="0.4"/>
<path d="M285.64 454.43L287.14 455.93L284.14 455.93Z" fill="#A3A500" fill-opacity="0.45"/>
<rect x="283.34" y="455.73" width="4.6" height="4.8" fill="#5E8FA0" fill-opacity="0.75"/>
<rect x="283.44" y="455.73" width="4.4" height="4.8" rx="1.3" fill="#F5736B"/>
<rect x="317.91" y="455.43" width="5.4" height="5.4" fill="#E76BF3" fill-opacity="0.4"/>
<path d="M320.61 454.43L322.11 455.93L319.11 455.93Z" fill="#A3A500" fill-opacity="0.45"/>
<rect x="318.31" y="455.73" width="4.6" height="4.8" fill="#5E8FA0" fill-opacity="0.75"/>
<rect x="318.41" y="455.73" width="4.4" height="4.8" rx="1.3" fill="#F5736B"/>
<rect x="352.87" y="455.35" width="5.4" height="5.4" fill="#E76BF3" fill-opacity="0.4"/>
<path d="M355.57 454.35L357.07 455.85L354.07 455.85Z" fill="#A3A500" fill-opacity="0.45"/>
<rect x="353.27" y="455.65" width="4.6" height="4.8" fill="#5E8FA0" fill-opacity="0.75"/>
<rect x="353.37" y="455.65" width="4.4" height="4.8" rx="1.3" fill="#F5736B"/>
<path d="M214.11 450.43H217.31" stroke="#1FB5F6" stroke-width="1.4" fill="none"/>
<path d="M212.51 450.43H218.91M215.71 447.23V453.63" stroke="#1FB5F6" stroke-width="0.95" fill="none"/>
<path d="M249.07 454.47H252.27" stroke="#1FB5F6" stroke-width="1.4" fill="none"/>
<path d="M247.47 454.47H253.87M250.67 451.27V457.67" stroke="#1FB5F6" stroke-width="0.95" fill="none"/>
<path d="M284.04 458.13H287.24" stroke="#1FB5F6" stroke-width="1.4" fill="none"/>
<path d="M282.44 458.13H288.84M285.64 454.93V461.33" stroke="#1FB5F6" stroke-width="0.95" fill="none"/>
<path d="M319.01 457.16H322.21" stroke="#1FB5F6" stroke-width="1.4" fill="none"/>
<path d="M317.41 457.16H323.81M320.61 453.96V460.36" stroke="#1FB5F6" stroke-width="0.95" fill="none"/>
<path d="M353.97 454.62H357.17" stroke="#1FB5F6" stroke-width="1.4" fill="none"/>
<path d="M352.37 454.62H358.77M355.57 451.42V457.82" stroke="#1FB5F6" stroke-width="0.95" fill="none"/>
<g font-family="'Liberation Sans', Arial, Helvetica, sans-serif" font-size="14" fill="#4d4d4d" text-anchor="middle">
<line x1="215.71" y1="464.2" x2="215.71" y2="467" stroke="#333" stroke-width="0.8"/>
<text x="215.71" y="479.4">1</text>
<line x1="250.67" y1="464.2" x2="250.67" y2="467" stroke="#333" stroke-width="0.8"/>
<text x="250.67" y="479.4">2</text>
<line x1="285.64" y1="464.2" x2="285.64" y2="467" stroke="#333" stroke-width="0.8"/>
<text x="285.64" y="479.4">3</text>
<line x1="320.61" y1="464.2" x2="320.61" y2="467" stroke="#333" stroke-width="0.8"/>
<text x="320.61" y="479.4">4</text>
<line x1="355.57" y1="464.2" x2="355.57" y2="467" stroke="#333" stroke-width="0.8"/>
<text x="355.57" y="479.4">5</text>
</g>
<text x="204.05" y="497.2" text-anchor="middle" font-family="'Liberation Sans', Arial, Helvetica, sans-serif" font-size="17.7" fill="#000">dimensions (k)</text>
<text transform="translate(25.1 260.9) rotate(-90)" text-anchor="middle" font-family="'Liberation Sans', Arial, Helvetica, sans-serif" font-size="17.6" fill="#000">RMSE</text>
<text text-anchor="middle" font-family="'Liberation Serif', 'Times New Roman', serif" font-size="26.8" fill="#000"><tspan x="186.1" y="549.7" font-size="26.7">(</tspan><tspan x="197.95" y="550.0" font-weight="bold">a</tspan><tspan x="210" y="549.7" font-size="26.7">)</tspan></text>
<g font-family="'Liberation Sans', Arial, Helvetica, sans-serif" font-size="17.5" fill="#000">
<line x1="478.4" y1="14.6" x2="490.8" y2="14.6" stroke="#F8766D" stroke-width="1.1"/>
<circle cx="484.6" cy="14.6" r="2.2" fill="#F8766D"/>
<text x="497.1" y="20.9">DY</text>
<line x1="526" y1="14.6" x2="538.4" y2="14.6" stroke="#A3A500" stroke-width="1.1"/>
<path d="M532.2 11.6L535.1 16.5L529.3 16.5Z" fill="#A3A500"/>
<text x="544.7" y="20.9">FR</text>
<line x1="574.7" y1="14.6" x2="587.1" y2="14.6" stroke="#00BF7D" stroke-width="1.1"/>
<rect x="578.8" y="12.5" width="4.2" height="4.2" fill="#00BF7D"/>
<text x="593.4" y="20.9">HS</text>
<line x1="623.9" y1="14.6" x2="636.3" y2="14.6" stroke="#1FB5F6" stroke-width="0.85"/>
<line x1="630.1" y1="11.4" x2="630.1" y2="17.8" stroke="#1FB5F6" stroke-width="0.85"/>
<text x="642.6" y="20.9">MM</text>
<line x1="678.8" y1="14.6" x2="691.2" y2="14.6" stroke="#E76BF3" stroke-width="0.85"/>
<rect x="683.1" y="12.7" width="3.8" height="3.8" fill="none" stroke="#E76BF3" stroke-width="0.7"/>
<line x1="685" y1="12.7" x2="685" y2="16.5" stroke="#E76BF3" stroke-width="0.7"/>
<text x="697.5" y="20.9">PR</text>
</g>
<rect x="441.2" y="38.45" width="152.55" height="17.7" fill="#a6a6a6" stroke="#000" stroke-width="1.3"/>
<text x="517.42" y="51.6" text-anchor="middle" font-family="'Liberation Sans', Arial, Helvetica, sans-serif" font-size="12.2" font-weight="bold" font-style="italic" fill="#fff" stroke="#fff" stroke-width="0.25">p = 50</text>
<rect x="600.1" y="38.45" width="152.8" height="17.7" fill="#a6a6a6" stroke="#000" stroke-width="1.3"/>
<text x="676.45" y="51.6" text-anchor="middle" font-family="'Liberation Sans', Arial, Helvetica, sans-serif" font-size="12.2" font-weight="bold" font-style="italic" fill="#fff" stroke="#fff" stroke-width="0.25">p = 100</text>
<rect x="754.1" y="57.7" width="18.1" height="131" fill="#a6a6a6" stroke="#000" stroke-width="1.3"/>
<text transform="translate(758.85 123.25) rotate(90)" text-anchor="middle" font-family="'Liberation Sans', Arial, Helvetica, sans-serif" font-size="12.2" font-weight="bold" font-style="italic" fill="#fff" stroke="#fff" stroke-width="0.25">n = 100</text>
<rect x="754.1" y="195.7" width="18.1" height="130.1" fill="#a6a6a6" stroke="#000" stroke-width="1.3"/>
<text transform="translate(758.85 260.8) rotate(90)" text-anchor="middle" font-family="'Liberation Sans', Arial, Helvetica, sans-serif" font-size="12.2" font-weight="bold" font-style="italic" fill="#fff" stroke="#fff" stroke-width="0.25">n = 300</text>
<rect x="754.1" y="333.2" width="18.1" height="130.2" fill="#a6a6a6" stroke="#000" stroke-width="1.3"/>
<text transform="translate(758.85 398.35) rotate(90)" text-anchor="middle" font-family="'Liberation Sans', Arial, Helvetica, sans-serif" font-size="12.2" font-weight="bold" font-style="italic" fill="#fff" stroke="#fff" stroke-width="0.25">n = 500</text>
<path d="M440.6 57V189.5" stroke="#333" stroke-width="0.47"/>
<path d="M594.25 57V189.5" stroke="#333" stroke-width="0.41"/>
<path d="M440.6 57H594.25" stroke="#333" stroke-width="0.33"/>
<path d="M440.6 189.5H594.25" stroke="#333" stroke-width="0.5"/>
<polyline points="449.08,177.75 483.15,178.19 517.22,163.21 551.29,131.52 585.36,78.18" fill="none" stroke="#F8766D" stroke-width="0.66"/>
<polyline points="449.08,177.75 483.15,178.19 517.22,163.21 551.29,131.52 585.36,78.18" fill="none" stroke="#A3A500" stroke-width="0.66" stroke-dasharray="1.95 1.95"/>
<polyline points="449.08,177.75 483.15,178.19 517.22,163.21 551.29,131.52 585.36,78.18" fill="none" stroke="#00BF7D" stroke-width="0.66" stroke-dasharray="3.9 1.95"/>
<polyline points="449.08,177.97 483.15,179.39 517.22,175.24 551.29,154.47 585.36,138.29" fill="none" stroke="#1FB5F6" stroke-width="0.8" stroke-dasharray="3.9 3.9"/>
<polyline points="449.08,177.75 483.15,178.19 517.22,163.21 551.29,131.52 585.36,78.18" fill="none" stroke="#E76BF3" stroke-width="0.66" stroke-dasharray="0.98 2.93"/>
<rect x="446.38" y="175.05" width="5.4" height="5.4" fill="#E76BF3" fill-opacity="0.4"/>
<path d="M449.08 174.05L450.58 175.55L447.58 175.55Z" fill="#A3A500" fill-opacity="0.45"/>
<rect x="446.78" y="175.35" width="4.6" height="4.8" fill="#5E8FA0" fill-opacity="0.75"/>
<rect x="446.88" y="175.35" width="4.4" height="4.8" rx="1.3" fill="#F5736B"/>
<rect x="480.45" y="175.49" width="5.4" height="5.4" fill="#E76BF3" fill-opacity="0.4"/>
<path d="M483.15 174.49L484.65 175.99L481.65 175.99Z" fill="#A3A500" fill-opacity="0.45"/>
<rect x="480.85" y="175.79" width="4.6" height="4.8" fill="#5E8FA0" fill-opacity="0.75"/>
<rect x="480.95" y="175.79" width="4.4" height="4.8" rx="1.3" fill="#F5736B"/>
<rect x="514.52" y="160.51" width="5.4" height="5.4" fill="#E76BF3" fill-opacity="0.4"/>
<path d="M517.22 159.51L518.72 161.01L515.72 161.01Z" fill="#A3A500" fill-opacity="0.45"/>
<rect x="514.92" y="160.81" width="4.6" height="4.8" fill="#5E8FA0" fill-opacity="0.75"/>
<rect x="515.02" y="160.81" width="4.4" height="4.8" rx="1.3" fill="#F5736B"/>
<path d="M549.39 126.49H553.19M549.39 136.55H553.19M551.29 126.49V136.55" stroke="#E2766C" stroke-width="1.15" fill="none"/>
<rect x="548.59" y="128.82" width="5.4" height="5.4" fill="#E76BF3" fill-opacity="0.4"/>
<path d="M551.29 127.82L552.79 129.32L549.79 129.32Z" fill="#A3A500" fill-opacity="0.45"/>
<rect x="548.99" y="129.12" width="4.6" height="4.8" fill="#5E8FA0" fill-opacity="0.75"/>
<rect x="549.09" y="129.12" width="4.4" height="4.8" rx="1.3" fill="#F5736B"/>
<path d="M583.46 63.2H587.26M583.46 93.15H587.26M585.36 63.2V93.15" stroke="#E2766C" stroke-width="1.15" fill="none"/>
<rect x="582.66" y="75.48" width="5.4" height="5.4" fill="#E76BF3" fill-opacity="0.4"/>
<path d="M585.36 74.48L586.86 75.98L583.86 75.98Z" fill="#A3A500" fill-opacity="0.45"/>
<rect x="583.06" y="75.78" width="4.6" height="4.8" fill="#5E8FA0" fill-opacity="0.75"/>
<rect x="583.16" y="75.78" width="4.4" height="4.8" rx="1.3" fill="#F5736B"/>
<path d="M447.48 177.97H450.68" stroke="#1FB5F6" stroke-width="1.4" fill="none"/>
<path d="M445.88 177.97H452.28M449.08 174.77V181.17" stroke="#1FB5F6" stroke-width="0.95" fill="none"/>
<path d="M481.55 179.39H484.75" stroke="#1FB5F6" stroke-width="1.4" fill="none"/>
<path d="M479.95 179.39H486.35M483.15 176.19V182.59" stroke="#1FB5F6" stroke-width="0.95" fill="none"/>
<path d="M515.62 175.24H518.82" stroke="#1FB5F6" stroke-width="1.4" fill="none"/>
<path d="M514.02 175.24H520.42M517.22 172.04V178.44" stroke="#1FB5F6" stroke-width="0.95" fill="none"/>
<path d="M549.39 152.07H553.19M549.39 156.87H553.19M551.29 152.07V156.87" stroke="#1FB5F6" stroke-width="1" fill="none"/>
<path d="M548.09 154.47H554.49M551.29 151.27V157.67" stroke="#1FB5F6" stroke-width="0.95" fill="none"/>
<path d="M583.46 136.33H587.26M583.46 140.26H587.26M585.36 136.33V140.26" stroke="#1FB5F6" stroke-width="1" fill="none"/>
<path d="M582.16 138.29H588.56M585.36 135.09V141.49" stroke="#1FB5F6" stroke-width="0.95" fill="none"/>
<g font-family="'Liberation Sans', Arial, Helvetica, sans-serif" font-size="14" fill="#4d4d4d" text-anchor="end">
<line x1="437.8" y1="184.2" x2="440.6" y2="184.2" stroke="#333" stroke-width="0.8"/>
<text x="436" y="190">0</text>
<line x1="437.8" y1="173.27" x2="440.6" y2="173.27" stroke="#333" stroke-width="0.8"/>
<text x="436" y="179.07">1</text>
<line x1="437.8" y1="162.34" x2="440.6" y2="162.34" stroke="#333" stroke-width="0.8"/>
<text x="436" y="168.14">2</text>
<line x1="437.8" y1="151.41" x2="440.6" y2="151.41" stroke="#333" stroke-width="0.8"/>
<text x="436" y="157.21">3</text>
<line x1="437.8" y1="140.48" x2="440.6" y2="140.48" stroke="#333" stroke-width="0.8"/>
<text x="436" y="146.28">4</text>
<line x1="437.8" y1="129.55" x2="440.6" y2="129.55" stroke="#333" stroke-width="0.8"/>
<text x="436" y="135.35">5</text>
<line x1="437.8" y1="118.62" x2="440.6" y2="118.62" stroke="#333" stroke-width="0.8"/>
<text x="436" y="124.42">6</text>
<line x1="437.8" y1="107.69" x2="440.6" y2="107.69" stroke="#333" stroke-width="0.8"/>
<text x="436" y="113.49">7</text>
<line x1="437.8" y1="96.76" x2="440.6" y2="96.76" stroke="#333" stroke-width="0.8"/>
<text x="436" y="102.56">8</text>
<line x1="437.8" y1="85.83" x2="440.6" y2="85.83" stroke="#333" stroke-width="0.8"/>
<text x="436" y="91.63">9</text>
<line x1="437.8" y1="74.9" x2="440.6" y2="74.9" stroke="#333" stroke-width="0.8"/>
<text x="436" y="80.7">10</text>
<line x1="437.8" y1="63.97" x2="440.6" y2="63.97" stroke="#333" stroke-width="0.8"/>
<text x="436" y="69.77">11</text>
</g>
<path d="M599.5 57V189.5" stroke="#333" stroke-width="0.5"/>
<path d="M753.4 57V189.5" stroke="#333" stroke-width="0.47"/>
<path d="M599.5 57H753.4" stroke="#333" stroke-width="0.33"/>
<path d="M599.5 189.5H753.4" stroke="#333" stroke-width="0.5"/>
<polyline points="608,178.41 642.12,180.37 676.25,177.64 710.37,169.66 744.49,157.64" fill="none" stroke="#F8766D" stroke-width="0.66"/>
<polyline points="608,178.41 642.12,180.37 676.25,177.64 710.37,169.66 744.49,157.64" fill="none" stroke="#A3A500" stroke-width="0.66" stroke-dasharray="1.95 1.95"/>
<polyline points="608,178.41 642.12,180.37 676.25,177.64 710.37,169.66 744.49,157.64" fill="none" stroke="#00BF7D" stroke-width="0.66" stroke-dasharray="3.9 1.95"/>
<polyline points="608,178.41 642.12,180.81 676.25,181.36 710.37,173.38 744.49,157.2" fill="none" stroke="#1FB5F6" stroke-width="0.8" stroke-dasharray="3.9 3.9"/>
<polyline points="608,178.41 642.12,180.37 676.25,177.64 710.37,169.66 744.49,157.64" fill="none" stroke="#E76BF3" stroke-width="0.66" stroke-dasharray="0.98 2.93"/>
<rect x="605.3" y="175.71" width="5.4" height="5.4" fill="#E76BF3" fill-opacity="0.4"/>
<path d="M608 174.71L609.5 176.21L606.5 176.21Z" fill="#A3A500" fill-opacity="0.45"/>
<rect x="605.7" y="176.01" width="4.6" height="4.8" fill="#5E8FA0" fill-opacity="0.75"/>
<rect x="605.8" y="176.01" width="4.4" height="4.8" rx="1.3" fill="#F5736B"/>
<rect x="639.42" y="177.67" width="5.4" height="5.4" fill="#E76BF3" fill-opacity="0.4"/>
<path d="M642.12 176.67L643.62 178.17L640.62 178.17Z" fill="#A3A500" fill-opacity="0.45"/>
<rect x="639.82" y="177.97" width="4.6" height="4.8" fill="#5E8FA0" fill-opacity="0.75"/>
<rect x="639.92" y="177.97" width="4.4" height="4.8" rx="1.3" fill="#F5736B"/>
<rect x="673.55" y="174.94" width="5.4" height="5.4" fill="#E76BF3" fill-opacity="0.4"/>
<path d="M676.25 173.94L677.75 175.44L674.75 175.44Z" fill="#A3A500" fill-opacity="0.45"/>
<rect x="673.95" y="175.24" width="4.6" height="4.8" fill="#5E8FA0" fill-opacity="0.75"/>
<rect x="674.05" y="175.24" width="4.4" height="4.8" rx="1.3" fill="#F5736B"/>
<rect x="707.67" y="166.96" width="5.4" height="5.4" fill="#E76BF3" fill-opacity="0.4"/>
<path d="M710.37 165.96L711.87 167.46L708.87 167.46Z" fill="#A3A500" fill-opacity="0.45"/>
<rect x="708.07" y="167.26" width="4.6" height="4.8" fill="#5E8FA0" fill-opacity="0.75"/>
<rect x="708.17" y="167.26" width="4.4" height="4.8" rx="1.3" fill="#F5736B"/>
<path d="M742.59 156.55H746.39M742.59 158.73H746.39M744.49 156.55V158.73" stroke="#E2766C" stroke-width="1.15" fill="none"/>
<rect x="741.79" y="154.94" width="5.4" height="5.4" fill="#E76BF3" fill-opacity="0.4"/>
<path d="M744.49 153.94L745.99 155.44L742.99 155.44Z" fill="#A3A500" fill-opacity="0.45"/>
<rect x="742.19" y="155.24" width="4.6" height="4.8" fill="#5E8FA0" fill-opacity="0.75"/>
<rect x="742.29" y="155.24" width="4.4" height="4.8" rx="1.3" fill="#F5736B"/>
<path d="M606.4 178.41H609.6" stroke="#1FB5F6" stroke-width="1.4" fill="none"/>
<path d="M604.8 178.41H611.2M608 175.21V181.61" stroke="#1FB5F6" stroke-width="0.95" fill="none"/>
<path d="M640.52 180.81H643.72" stroke="#1FB5F6" stroke-width="1.4" fill="none"/>
<path d="M638.92 180.81H645.32M642.12 177.61V184.01" stroke="#1FB5F6" stroke-width="0.95" fill="none"/>
<path d="M674.65 181.36H677.85" stroke="#1FB5F6" stroke-width="1.4" fill="none"/>
<path d="M673.05 181.36H679.45M676.25 178.16V184.56" stroke="#1FB5F6" stroke-width="0.95" fill="none"/>
<path d="M708.77 173.38H711.97" stroke="#1FB5F6" stroke-width="1.4" fill="none"/>
<path d="M707.17 173.38H713.57M710.37 170.18V176.58" stroke="#1FB5F6" stroke-width="0.95" fill="none"/>
<path d="M742.59 156.11H746.39M742.59 158.3H746.39M744.49 156.11V158.3" stroke="#1FB5F6" stroke-width="1" fill="none"/>
<path d="M741.29 157.2H747.69M744.49 154V160.4" stroke="#1FB5F6" stroke-width="0.95" fill="none"/>
<path d="M440.6 195V326.6" stroke="#333" stroke-width="0.47"/>
<path d="M594.25 195V326.6" stroke="#333" stroke-width="0.41"/>
<path d="M440.6 195H594.25" stroke="#333" stroke-width="0.33"/>
<path d="M440.6 326.6H594.25" stroke="#333" stroke-width="0.47"/>
<polyline points="449.08,315.47 483.15,317.11 517.22,312.96 551.29,304.54 585.36,291.97" fill="none" stroke="#F8766D" stroke-width="0.66"/>
<polyline points="449.08,315.47 483.15,317.11 517.22,312.96 551.29,304.54 585.36,291.97" fill="none" stroke="#A3A500" stroke-width="0.66" stroke-dasharray="1.95 1.95"/>
<polyline points="449.08,315.47 483.15,317.11 517.22,312.96 551.29,304.54 585.36,291.97" fill="none" stroke="#00BF7D" stroke-width="0.66" stroke-dasharray="3.9 1.95"/>
<polyline points="449.08,315.47 483.15,318.09 517.22,319.08 551.29,312.85 585.36,299.62" fill="none" stroke="#1FB5F6" stroke-width="0.8" stroke-dasharray="3.9 3.9"/>
<polyline points="449.08,315.47 483.15,317.11 517.22,312.96 551.29,304.54 585.36,291.97" fill="none" stroke="#E76BF3" stroke-width="0.66" stroke-dasharray="0.98 2.93"/>
<rect x="446.38" y="312.77" width="5.4" height="5.4" fill="#E76BF3" fill-opacity="0.4"/>
<path d="M449.08 311.77L450.58 313.27L447.58 313.27Z" fill="#A3A500" fill-opacity="0.45"/>
<rect x="446.78" y="313.07" width="4.6" height="4.8" fill="#5E8FA0" fill-opacity="0.75"/>
<rect x="446.88" y="313.07" width="4.4" height="4.8" rx="1.3" fill="#F5736B"/>
<rect x="480.45" y="314.41" width="5.4" height="5.4" fill="#E76BF3" fill-opacity="0.4"/>
<path d="M483.15 313.41L484.65 314.91L481.65 314.91Z" fill="#A3A500" fill-opacity="0.45"/>
<rect x="480.85" y="314.71" width="4.6" height="4.8" fill="#5E8FA0" fill-opacity="0.75"/>
<rect x="480.95" y="314.71" width="4.4" height="4.8" rx="1.3" fill="#F5736B"/>
<rect x="514.52" y="310.26" width="5.4" height="5.4" fill="#E76BF3" fill-opacity="0.4"/>
<path d="M517.22 309.26L518.72 310.76L515.72 310.76Z" fill="#A3A500" fill-opacity="0.45"/>
<rect x="514.92" y="310.56" width="4.6" height="4.8" fill="#5E8FA0" fill-opacity="0.75"/>
<rect x="515.02" y="310.56" width="4.4" height="4.8" rx="1.3" fill="#F5736B"/>
<rect x="548.59" y="301.84" width="5.4" height="5.4" fill="#E76BF3" fill-opacity="0.4"/>
<path d="M551.29 300.84L552.79 302.34L549.79 302.34Z" fill="#A3A500" fill-opacity="0.45"/>
<rect x="548.99" y="302.14" width="4.6" height="4.8" fill="#5E8FA0" fill-opacity="0.75"/>
<rect x="549.09" y="302.14" width="4.4" height="4.8" rx="1.3" fill="#F5736B"/>
<path d="M583.46 289.02H587.26M583.46 294.92H587.26M585.36 289.02V294.92" stroke="#E2766C" stroke-width="1.15" fill="none"/>
<rect x="582.66" y="289.27" width="5.4" height="5.4" fill="#E76BF3" fill-opacity="0.4"/>
<path d="M585.36 288.27L586.86 289.77L583.86 289.77Z" fill="#A3A500" fill-opacity="0.45"/>
<rect x="583.06" y="289.57" width="4.6" height="4.8" fill="#5E8FA0" fill-opacity="0.75"/>
<rect x="583.16" y="289.57" width="4.4" height="4.8" rx="1.3" fill="#F5736B"/>
<path d="M447.48 315.47H450.68" stroke="#1FB5F6" stroke-width="1.4" fill="none"/>
<path d="M445.88 315.47H452.28M449.08 312.27V318.67" stroke="#1FB5F6" stroke-width="0.95" fill="none"/>
<path d="M481.55 318.09H484.75" stroke="#1FB5F6" stroke-width="1.4" fill="none"/>
<path d="M479.95 318.09H486.35M483.15 314.89V321.29" stroke="#1FB5F6" stroke-width="0.95" fill="none"/>
<path d="M515.62 319.08H518.82" stroke="#1FB5F6" stroke-width="1.4" fill="none"/>
<path d="M514.02 319.08H520.42M517.22 315.88V322.28" stroke="#1FB5F6" stroke-width="0.95" fill="none"/>
<path d="M549.69 312.85H552.89" stroke="#1FB5F6" stroke-width="1.4" fill="none"/>
<path d="M548.09 312.85H554.49M551.29 309.65V316.05" stroke="#1FB5F6" stroke-width="0.95" fill="none"/>
<path d="M583.46 298.53H587.26M583.46 300.71H587.26M585.36 298.53V300.71" stroke="#1FB5F6" stroke-width="1" fill="none"/>
<path d="M582.16 299.62H588.56M585.36 296.42V302.82" stroke="#1FB5F6" stroke-width="0.95" fill="none"/>
<g font-family="'Liberation Sans', Arial, Helvetica, sans-serif" font-size="14" fill="#4d4d4d" text-anchor="end">
<line x1="437.8" y1="321.7" x2="440.6" y2="321.7" stroke="#333" stroke-width="0.8"/>
<text x="436" y="327.5">0</text>
<line x1="437.8" y1="310.77" x2="440.6" y2="310.77" stroke="#333" stroke-width="0.8"/>
<text x="436" y="316.57">1</text>
<line x1="437.8" y1="299.84" x2="440.6" y2="299.84" stroke="#333" stroke-width="0.8"/>
<text x="436" y="305.64">2</text>
<line x1="437.8" y1="288.91" x2="440.6" y2="288.91" stroke="#333" stroke-width="0.8"/>
<text x="436" y="294.71">3</text>
<line x1="437.8" y1="277.98" x2="440.6" y2="277.98" stroke="#333" stroke-width="0.8"/>
<text x="436" y="283.78">4</text>
<line x1="437.8" y1="267.05" x2="440.6" y2="267.05" stroke="#333" stroke-width="0.8"/>
<text x="436" y="272.85">5</text>
<line x1="437.8" y1="256.12" x2="440.6" y2="256.12" stroke="#333" stroke-width="0.8"/>
<text x="436" y="261.92">6</text>
<line x1="437.8" y1="245.19" x2="440.6" y2="245.19" stroke="#333" stroke-width="0.8"/>
<text x="436" y="250.99">7</text>
<line x1="437.8" y1="234.26" x2="440.6" y2="234.26" stroke="#333" stroke-width="0.8"/>
<text x="436" y="240.06">8</text>
<line x1="437.8" y1="223.33" x2="440.6" y2="223.33" stroke="#333" stroke-width="0.8"/>
<text x="436" y="229.13">9</text>
<line x1="437.8" y1="212.4" x2="440.6" y2="212.4" stroke="#333" stroke-width="0.8"/>
<text x="436" y="218.2">10</text>
<line x1="437.8" y1="201.47" x2="440.6" y2="201.47" stroke="#333" stroke-width="0.8"/>
<text x="436" y="207.27">11</text>
</g>
<path d="M599.5 195V326.6" stroke="#333" stroke-width="0.5"/>
<path d="M753.4 195V326.6" stroke="#333" stroke-width="0.47"/>
<path d="M599.5 195H753.4" stroke="#333" stroke-width="0.33"/>
<path d="M599.5 326.6H753.4" stroke="#333" stroke-width="0.47"/>
<polyline points="608,316.24 642.12,318.42 676.25,319.19 710.37,319.08 744.49,316.78" fill="none" stroke="#F8766D" stroke-width="0.66"/>
<polyline points="608,316.24 642.12,318.42 676.25,319.19 710.37,319.08 744.49,316.78" fill="none" stroke="#A3A500" stroke-width="0.66" stroke-dasharray="1.95 1.95"/>
<polyline points="608,316.24 642.12,318.42 676.25,319.19 710.37,319.08 744.49,316.78" fill="none" stroke="#00BF7D" stroke-width="0.66" stroke-dasharray="3.9 1.95"/>
<polyline points="608,316.24 642.12,318.42 676.25,320.39 710.37,319.08 744.49,316.56" fill="none" stroke="#1FB5F6" stroke-width="0.8" stroke-dasharray="3.9 3.9"/>
<polyline points="608,316.24 642.12,318.42 676.25,319.19 710.37,319.08 744.49,316.78" fill="none" stroke="#E76BF3" stroke-width="0.66" stroke-dasharray="0.98 2.93"/>
<rect x="605.3" y="313.54" width="5.4" height="5.4" fill="#E76BF3" fill-opacity="0.4"/>
<path d="M608 312.54L609.5 314.04L606.5 314.04Z" fill="#A3A500" fill-opacity="0.45"/>
<rect x="605.7" y="313.84" width="4.6" height="4.8" fill="#5E8FA0" fill-opacity="0.75"/>
<rect x="605.8" y="313.84" width="4.4" height="4.8" rx="1.3" fill="#F5736B"/>
<rect x="639.42" y="315.72" width="5.4" height="5.4" fill="#E76BF3" fill-opacity="0.4"/>
<path d="M642.12 314.72L643.62 316.22L640.62 316.22Z" fill="#A3A500" fill-opacity="0.45"/>
<rect x="639.82" y="316.02" width="4.6" height="4.8" fill="#5E8FA0" fill-opacity="0.75"/>
<rect x="639.92" y="316.02" width="4.4" height="4.8" rx="1.3" fill="#F5736B"/>
<rect x="673.55" y="316.49" width="5.4" height="5.4" fill="#E76BF3" fill-opacity="0.4"/>
<path d="M676.25 315.49L677.75 316.99L674.75 316.99Z" fill="#A3A500" fill-opacity="0.45"/>
<rect x="673.95" y="316.79" width="4.6" height="4.8" fill="#5E8FA0" fill-opacity="0.75"/>
<rect x="674.05" y="316.79" width="4.4" height="4.8" rx="1.3" fill="#F5736B"/>
<rect x="707.67" y="316.38" width="5.4" height="5.4" fill="#E76BF3" fill-opacity="0.4"/>
<path d="M710.37 315.38L711.87 316.88L708.87 316.88Z" fill="#A3A500" fill-opacity="0.45"/>
<rect x="708.07" y="316.68" width="4.6" height="4.8" fill="#5E8FA0" fill-opacity="0.75"/>
<rect x="708.17" y="316.68" width="4.4" height="4.8" rx="1.3" fill="#F5736B"/>
<rect x="741.79" y="314.08" width="5.4" height="5.4" fill="#E76BF3" fill-opacity="0.4"/>
<path d="M744.49 313.08L745.99 314.58L742.99 314.58Z" fill="#A3A500" fill-opacity="0.45"/>
<rect x="742.19" y="314.38" width="4.6" height="4.8" fill="#5E8FA0" fill-opacity="0.75"/>
<rect x="742.29" y="314.38" width="4.4" height="4.8" rx="1.3" fill="#F5736B"/>
<path d="M606.4 316.24H609.6" stroke="#1FB5F6" stroke-width="1.4" fill="none"/>
<path d="M604.8 316.24H611.2M608 313.04V319.44" stroke="#1FB5F6" stroke-width="0.95" fill="none"/>
<path d="M640.52 318.42H643.72" stroke="#1FB5F6" stroke-width="1.4" fill="none"/>
<path d="M638.92 318.42H645.32M642.12 315.22V321.62" stroke="#1FB5F6" stroke-width="0.95" fill="none"/>
<path d="M674.65 320.39H677.85" stroke="#1FB5F6" stroke-width="1.4" fill="none"/>
<path d="M673.05 320.39H679.45M676.25 317.19V323.59" stroke="#1FB5F6" stroke-width="0.95" fill="none"/>
<path d="M708.77 319.08H711.97" stroke="#1FB5F6" stroke-width="1.4" fill="none"/>
<path d="M707.17 319.08H713.57M710.37 315.88V322.28" stroke="#1FB5F6" stroke-width="0.95" fill="none"/>
<path d="M742.89 316.56H746.09" stroke="#1FB5F6" stroke-width="1.4" fill="none"/>
<path d="M741.29 316.56H747.69M744.49 313.36V319.76" stroke="#1FB5F6" stroke-width="0.95" fill="none"/>
<path d="M440.6 332.5V464.2" stroke="#333" stroke-width="0.47"/>
<path d="M594.25 332.5V464.2" stroke="#333" stroke-width="0.41"/>
<path d="M440.6 332.5H594.25" stroke="#333" stroke-width="0.5"/>
<path d="M440.6 464.2H594.25" stroke="#333" stroke-width="0.4"/>
<polyline points="449.08,452.87 483.15,454.84 517.22,451.23 551.29,449.26 585.36,442.49" fill="none" stroke="#F8766D" stroke-width="0.66"/>
<polyline points="449.08,452.87 483.15,454.84 517.22,451.23 551.29,449.26 585.36,442.49" fill="none" stroke="#A3A500" stroke-width="0.66" stroke-dasharray="1.95 1.95"/>
<polyline points="449.08,452.87 483.15,454.84 517.22,451.23 551.29,449.26 585.36,442.49" fill="none" stroke="#00BF7D" stroke-width="0.66" stroke-dasharray="3.9 1.95"/>
<polyline points="449.08,452.87 483.15,455.82 517.22,457.46 551.29,452.54 585.36,443.91" fill="none" stroke="#1FB5F6" stroke-width="0.8" stroke-dasharray="3.9 3.9"/>
<polyline points="449.08,452.87 483.15,454.84 517.22,451.23 551.29,449.26 585.36,442.49" fill="none" stroke="#E76BF3" stroke-width="0.66" stroke-dasharray="0.98 2.93"/>
<rect x="446.38" y="450.17" width="5.4" height="5.4" fill="#E76BF3" fill-opacity="0.4"/>
<path d="M449.08 449.17L450.58 450.67L447.58 450.67Z" fill="#A3A500" fill-opacity="0.45"/>
<rect x="446.78" y="450.47" width="4.6" height="4.8" fill="#5E8FA0" fill-opacity="0.75"/>
<rect x="446.88" y="450.47" width="4.4" height="4.8" rx="1.3" fill="#F5736B"/>
<rect x="480.45" y="452.14" width="5.4" height="5.4" fill="#E76BF3" fill-opacity="0.4"/>
<path d="M483.15 451.14L484.65 452.64L481.65 452.64Z" fill="#A3A500" fill-opacity="0.45"/>
<rect x="480.85" y="452.44" width="4.6" height="4.8" fill="#5E8FA0" fill-opacity="0.75"/>
<rect x="480.95" y="452.44" width="4.4" height="4.8" rx="1.3" fill="#F5736B"/>
<rect x="514.52" y="448.53" width="5.4" height="5.4" fill="#E76BF3" fill-opacity="0.4"/>
<path d="M517.22 447.53L518.72 449.03L515.72 449.03Z" fill="#A3A500" fill-opacity="0.45"/>
<rect x="514.92" y="448.83" width="4.6" height="4.8" fill="#5E8FA0" fill-opacity="0.75"/>
<rect x="515.02" y="448.83" width="4.4" height="4.8" rx="1.3" fill="#F5736B"/>
<rect x="548.59" y="446.56" width="5.4" height="5.4" fill="#E76BF3" fill-opacity="0.4"/>
<path d="M551.29 445.56L552.79 447.06L549.79 447.06Z" fill="#A3A500" fill-opacity="0.45"/>
<rect x="548.99" y="446.86" width="4.6" height="4.8" fill="#5E8FA0" fill-opacity="0.75"/>
<rect x="549.09" y="446.86" width="4.4" height="4.8" rx="1.3" fill="#F5736B"/>
<path d="M583.46 441.39H587.26M583.46 443.58H587.26M585.36 441.39V443.58" stroke="#E2766C" stroke-width="1.15" fill="none"/>
<rect x="582.66" y="439.79" width="5.4" height="5.4" fill="#E76BF3" fill-opacity="0.4"/>
<path d="M585.36 438.79L586.86 440.29L583.86 440.29Z" fill="#A3A500" fill-opacity="0.45"/>
<rect x="583.06" y="440.09" width="4.6" height="4.8" fill="#5E8FA0" fill-opacity="0.75"/>
<rect x="583.16" y="440.09" width="4.4" height="4.8" rx="1.3" fill="#F5736B"/>
<path d="M447.48 452.87H450.68" stroke="#1FB5F6" stroke-width="1.4" fill="none"/>
<path d="M445.88 452.87H452.28M449.08 449.67V456.07" stroke="#1FB5F6" stroke-width="0.95" fill="none"/>
<path d="M481.55 455.82H484.75" stroke="#1FB5F6" stroke-width="1.4" fill="none"/>
<path d="M479.95 455.82H486.35M483.15 452.62V459.02" stroke="#1FB5F6" stroke-width="0.95" fill="none"/>
<path d="M515.62 457.46H518.82" stroke="#1FB5F6" stroke-width="1.4" fill="none"/>
<path d="M514.02 457.46H520.42M517.22 454.26V460.66" stroke="#1FB5F6" stroke-width="0.95" fill="none"/>
<path d="M549.69 452.54H552.89" stroke="#1FB5F6" stroke-width="1.4" fill="none"/>
<path d="M548.09 452.54H554.49M551.29 449.34V455.74" stroke="#1FB5F6" stroke-width="0.95" fill="none"/>
<path d="M583.46 442.81H587.26M583.46 445H587.26M585.36 442.81V445" stroke="#1FB5F6" stroke-width="1" fill="none"/>
<path d="M582.16 443.91H588.56M585.36 440.71V447.11" stroke="#1FB5F6" stroke-width="0.95" fill="none"/>
<g font-family="'Liberation Sans', Arial, Helvetica, sans-serif" font-size="14" fill="#4d4d4d" text-anchor="end">
<line x1="437.8" y1="459.1" x2="440.6" y2="459.1" stroke="#333" stroke-width="0.8"/>
<text x="436" y="464.9">0</text>
<line x1="437.8" y1="448.17" x2="440.6" y2="448.17" stroke="#333" stroke-width="0.8"/>
<text x="436" y="453.97">1</text>
<line x1="437.8" y1="437.24" x2="440.6" y2="437.24" stroke="#333" stroke-width="0.8"/>
<text x="436" y="443.04">2</text>
<line x1="437.8" y1="426.31" x2="440.6" y2="426.31" stroke="#333" stroke-width="0.8"/>
<text x="436" y="432.11">3</text>
<line x1="437.8" y1="415.38" x2="440.6" y2="415.38" stroke="#333" stroke-width="0.8"/>
<text x="436" y="421.18">4</text>
<line x1="437.8" y1="404.45" x2="440.6" y2="404.45" stroke="#333" stroke-width="0.8"/>
<text x="436" y="410.25">5</text>
<line x1="437.8" y1="393.52" x2="440.6" y2="393.52" stroke="#333" stroke-width="0.8"/>
<text x="436" y="399.32">6</text>
<line x1="437.8" y1="382.59" x2="440.6" y2="382.59" stroke="#333" stroke-width="0.8"/>
<text x="436" y="388.39">7</text>
<line x1="437.8" y1="371.66" x2="440.6" y2="371.66" stroke="#333" stroke-width="0.8"/>
<text x="436" y="377.46">8</text>
<line x1="437.8" y1="360.73" x2="440.6" y2="360.73" stroke="#333" stroke-width="0.8"/>
<text x="436" y="366.53">9</text>
<line x1="437.8" y1="349.8" x2="440.6" y2="349.8" stroke="#333" stroke-width="0.8"/>
<text x="436" y="355.6">10</text>
<line x1="437.8" y1="338.87" x2="440.6" y2="338.87" stroke="#333" stroke-width="0.8"/>
<text x="436" y="344.67">11</text>
</g>
<g font-family="'Liberation Sans', Arial, Helvetica, sans-serif" font-size="14" fill="#4d4d4d" text-anchor="middle">
<line x1="449.08" y1="464.2" x2="449.08" y2="467" stroke="#333" stroke-width="0.8"/>
<text x="449.08" y="479.4">1</text>
<line x1="483.15" y1="464.2" x2="483.15" y2="467" stroke="#333" stroke-width="0.8"/>
<text x="483.15" y="479.4">2</text>
<line x1="517.22" y1="464.2" x2="517.22" y2="467" stroke="#333" stroke-width="0.8"/>
<text x="517.22" y="479.4">3</text>
<line x1="551.29" y1="464.2" x2="551.29" y2="467" stroke="#333" stroke-width="0.8"/>
<text x="551.29" y="479.4">4</text>
<line x1="585.36" y1="464.2" x2="585.36" y2="467" stroke="#333" stroke-width="0.8"/>
<text x="585.36" y="479.4">5</text>
</g>
<path d="M599.5 332.5V464.2" stroke="#333" stroke-width="0.5"/>
<path d="M753.4 332.5V464.2" stroke="#333" stroke-width="0.47"/>
<path d="M599.5 332.5H753.4" stroke="#333" stroke-width="0.5"/>
<path d="M599.5 464.2H753.4" stroke="#333" stroke-width="0.4"/>
<polyline points="608,453.42 642.12,456.15 676.25,457.46 710.37,457.13 744.49,457.02" fill="none" stroke="#F8766D" stroke-width="0.66"/>
<polyline points="608,453.42 642.12,456.15 676.25,457.46 710.37,457.13 744.49,457.02" fill="none" stroke="#A3A500" stroke-width="0.66" stroke-dasharray="1.95 1.95"/>
<polyline points="608,453.42 642.12,456.15 676.25,457.46 710.37,457.13 744.49,457.02" fill="none" stroke="#00BF7D" stroke-width="0.66" stroke-dasharray="3.9 1.95"/>
<polyline points="608,453.42 642.12,456.15 676.25,458.23 710.37,457.13 744.49,455.82" fill="none" stroke="#1FB5F6" stroke-width="0.8" stroke-dasharray="3.9 3.9"/>
<polyline points="608,453.42 642.12,456.15 676.25,457.46 710.37,457.13 744.49,457.02" fill="none" stroke="#E76BF3" stroke-width="0.66" stroke-dasharray="0.98 2.93"/>
<rect x="605.3" y="450.72" width="5.4" height="5.4" fill="#E76BF3" fill-opacity="0.4"/>
<path d="M608 449.72L609.5 451.22L606.5 451.22Z" fill="#A3A500" fill-opacity="0.45"/>
<rect x="605.7" y="451.02" width="4.6" height="4.8" fill="#5E8FA0" fill-opacity="0.75"/>
<rect x="605.8" y="451.02" width="4.4" height="4.8" rx="1.3" fill="#F5736B"/>
<rect x="639.42" y="453.45" width="5.4" height="5.4" fill="#E76BF3" fill-opacity="0.4"/>
<path d="M642.12 452.45L643.62 453.95L640.62 453.95Z" fill="#A3A500" fill-opacity="0.45"/>
<rect x="639.82" y="453.75" width="4.6" height="4.8" fill="#5E8FA0" fill-opacity="0.75"/>
<rect x="639.92" y="453.75" width="4.4" height="4.8" rx="1.3" fill="#F5736B"/>
<rect x="673.55" y="454.76" width="5.4" height="5.4" fill="#E76BF3" fill-opacity="0.4"/>
<path d="M676.25 453.76L677.75 455.26L674.75 455.26Z" fill="#A3A500" fill-opacity="0.45"/>
<rect x="673.95" y="455.06" width="4.6" height="4.8" fill="#5E8FA0" fill-opacity="0.75"/>
<rect x="674.05" y="455.06" width="4.4" height="4.8" rx="1.3" fill="#F5736B"/>
<rect x="707.67" y="454.43" width="5.4" height="5.4" fill="#E76BF3" fill-opacity="0.4"/>
<path d="M710.37 453.43L711.87 454.93L708.87 454.93Z" fill="#A3A500" fill-opacity="0.45"/>
<rect x="708.07" y="454.73" width="4.6" height="4.8" fill="#5E8FA0" fill-opacity="0.75"/>
<rect x="708.17" y="454.73" width="4.4" height="4.8" rx="1.3" fill="#F5736B"/>
<rect x="741.79" y="454.32" width="5.4" height="5.4" fill="#E76BF3" fill-opacity="0.4"/>
<path d="M744.49 453.32L745.99 454.82L742.99 454.82Z" fill="#A3A500" fill-opacity="0.45"/>
<rect x="742.19" y="454.62" width="4.6" height="4.8" fill="#5E8FA0" fill-opacity="0.75"/>
<rect x="742.29" y="454.62" width="4.4" height="4.8" rx="1.3" fill="#F5736B"/>
<path d="M606.4 453.42H609.6" stroke="#1FB5F6" stroke-width="1.4" fill="none"/>
<path d="M604.8 453.42H611.2M608 450.22V456.62" stroke="#1FB5F6" stroke-width="0.95" fill="none"/>
<path d="M640.52 456.15H643.72" stroke="#1FB5F6" stroke-width="1.4" fill="none"/>
<path d="M638.92 456.15H645.32M642.12 452.95V459.35" stroke="#1FB5F6" stroke-width="0.95" fill="none"/>
<path d="M674.65 458.23H677.85" stroke="#1FB5F6" stroke-width="1.4" fill="none"/>
<path d="M673.05 458.23H679.45M676.25 455.03V461.43" stroke="#1FB5F6" stroke-width="0.95" fill="none"/>
<path d="M708.77 457.13H711.97" stroke="#1FB5F6" stroke-width="1.4" fill="none"/>
<path d="M707.17 457.13H713.57M710.37 453.93V460.33" stroke="#1FB5F6" stroke-width="0.95" fill="none"/>
<path d="M742.89 455.82H746.09" stroke="#1FB5F6" stroke-width="1.4" fill="none"/>
<path d="M741.29 455.82H747.69M744.49 452.62V459.02" stroke="#1FB5F6" stroke-width="0.95" fill="none"/>
<g font-family="'Liberation Sans', Arial, Helvetica, sans-serif" font-size="14" fill="#4d4d4d" text-anchor="middle">
<line x1="608" y1="464.2" x2="608" y2="467" stroke="#333" stroke-width="0.8"/>
<text x="608" y="479.4">1</text>
<line x1="642.12" y1="464.2" x2="642.12" y2="467" stroke="#333" stroke-width="0.8"/>
<text x="642.12" y="479.4">2</text>
<line x1="676.25" y1="464.2" x2="676.25" y2="467" stroke="#333" stroke-width="0.8"/>
<text x="676.25" y="479.4">3</text>
<line x1="710.37" y1="464.2" x2="710.37" y2="467" stroke="#333" stroke-width="0.8"/>
<text x="710.37" y="479.4">4</text>
<line x1="744.49" y1="464.2" x2="744.49" y2="467" stroke="#333" stroke-width="0.8"/>
<text x="744.49" y="479.4">5</text>
</g>
<text x="596.7" y="497.2" text-anchor="middle" font-family="'Liberation Sans', Arial, Helvetica, sans-serif" font-size="17.7" fill="#000">dimensions (k)</text>
<text transform="translate(413.5 260.9) rotate(-90)" text-anchor="middle" font-family="'Liberation Sans', Arial, Helvetica, sans-serif" font-size="17.6" fill="#000">RMSE</text>
<text text-anchor="middle" font-family="'Liberation Serif', 'Times New Roman', serif" font-size="26.8" fill="#000"><tspan x="574.7" y="549.7" font-size="26.7">(</tspan><tspan x="586.65" y="550.0" font-weight="bold">b</tspan><tspan x="598.9" y="549.7" font-size="26.7">)</tspan></text>
<g font-family="'Liberation Sans', Arial, Helvetica, sans-serif" font-size="17.5" fill="#000">
<line x1="863.4" y1="14.6" x2="875.8" y2="14.6" stroke="#F8766D" stroke-width="1.1"/>
<circle cx="869.6" cy="14.6" r="2.2" fill="#F8766D"/>
<text x="882.1" y="20.9">DY</text>
<line x1="911" y1="14.6" x2="923.4" y2="14.6" stroke="#A3A500" stroke-width="1.1"/>
<path d="M917.2 11.6L920.1 16.5L914.3 16.5Z" fill="#A3A500"/>
<text x="929.7" y="20.9">FR</text>
<line x1="959.7" y1="14.6" x2="972.1" y2="14.6" stroke="#00BF7D" stroke-width="1.1"/>
<rect x="963.8" y="12.5" width="4.2" height="4.2" fill="#00BF7D"/>
<text x="978.4" y="20.9">HS</text>
<line x1="1008.9" y1="14.6" x2="1021.3" y2="14.6" stroke="#1FB5F6" stroke-width="0.85"/>
<line x1="1015.1" y1="11.4" x2="1015.1" y2="17.8" stroke="#1FB5F6" stroke-width="0.85"/>
<text x="1027.6" y="20.9">MM</text>
<line x1="1063.8" y1="14.6" x2="1076.2" y2="14.6" stroke="#E76BF3" stroke-width="0.85"/>
<rect x="1068.1" y="12.7" width="3.8" height="3.8" fill="none" stroke="#E76BF3" stroke-width="0.7"/>
<line x1="1070" y1="12.7" x2="1070" y2="16.5" stroke="#E76BF3" stroke-width="0.7"/>
<text x="1082.5" y="20.9">PR</text>
</g>
<rect x="822.1" y="38.45" width="156.7" height="17.7" fill="#a6a6a6" stroke="#000" stroke-width="1.3"/>
<text x="900.4" y="51.6" text-anchor="middle" font-family="'Liberation Sans', Arial, Helvetica, sans-serif" font-size="12.2" font-weight="bold" font-style="italic" fill="#fff" stroke="#fff" stroke-width="0.25">p = 50</text>
<rect x="985.1" y="38.45" width="156.6" height="17.7" fill="#a6a6a6" stroke="#000" stroke-width="1.3"/>
<text x="1063.35" y="51.6" text-anchor="middle" font-family="'Liberation Sans', Arial, Helvetica, sans-serif" font-size="12.2" font-weight="bold" font-style="italic" fill="#fff" stroke="#fff" stroke-width="0.25">p = 100</text>
<rect x="1142.9" y="57.7" width="18.1" height="131" fill="#a6a6a6" stroke="#000" stroke-width="1.3"/>
<text transform="translate(1147.65 123.25) rotate(90)" text-anchor="middle" font-family="'Liberation Sans', Arial, Helvetica, sans-serif" font-size="12.2" font-weight="bold" font-style="italic" fill="#fff" stroke="#fff" stroke-width="0.25">n = 100</text>
<rect x="1142.9" y="195.7" width="18.1" height="130.1" fill="#a6a6a6" stroke="#000" stroke-width="1.3"/>
<text transform="translate(1147.65 260.8) rotate(90)" text-anchor="middle" font-family="'Liberation Sans', Arial, Helvetica, sans-serif" font-size="12.2" font-weight="bold" font-style="italic" fill="#fff" stroke="#fff" stroke-width="0.25">n = 300</text>
<rect x="1142.9" y="333.2" width="18.1" height="130.2" fill="#a6a6a6" stroke="#000" stroke-width="1.3"/>
<text transform="translate(1147.65 398.35) rotate(90)" text-anchor="middle" font-family="'Liberation Sans', Arial, Helvetica, sans-serif" font-size="12.2" font-weight="bold" font-style="italic" fill="#fff" stroke="#fff" stroke-width="0.25">n = 500</text>
<path d="M821.5 57V189.5" stroke="#333" stroke-width="0.5"/>
<path d="M979.3 57V189.5" stroke="#333" stroke-width="0.43"/>
<path d="M821.5 57H979.3" stroke="#333" stroke-width="0.33"/>
<path d="M821.5 189.5H979.3" stroke="#333" stroke-width="0.5"/>
<polyline points="830.21,178.2 865.2,178.2 900.19,159.19 935.18,130.41 970.17,80.38" fill="none" stroke="#F8766D" stroke-width="0.66"/>
<polyline points="830.21,178.2 865.2,178.2 900.19,159.19 935.18,130.41 970.17,80.38" fill="none" stroke="#A3A500" stroke-width="0.66" stroke-dasharray="1.95 1.95"/>
<polyline points="830.21,178.2 865.2,178.2 900.19,159.19 935.18,130.41 970.17,80.38" fill="none" stroke="#00BF7D" stroke-width="0.66" stroke-dasharray="3.9 1.95"/>
<polyline points="830.21,178.33 865.2,179.38 900.19,176.22 935.18,168.69 970.17,170.41" fill="none" stroke="#1FB5F6" stroke-width="0.8" stroke-dasharray="3.9 3.9"/>
<polyline points="830.21,178.2 865.2,178.2 900.19,159.19 935.18,130.41 970.17,80.38" fill="none" stroke="#E76BF3" stroke-width="0.66" stroke-dasharray="0.98 2.93"/>
<rect x="827.51" y="175.5" width="5.4" height="5.4" fill="#E76BF3" fill-opacity="0.4"/>
<path d="M830.21 174.5L831.71 176L828.71 176Z" fill="#A3A500" fill-opacity="0.45"/>
<rect x="827.91" y="175.8" width="4.6" height="4.8" fill="#5E8FA0" fill-opacity="0.75"/>
<rect x="828.01" y="175.8" width="4.4" height="4.8" rx="1.3" fill="#F5736B"/>
<rect x="862.5" y="175.5" width="5.4" height="5.4" fill="#E76BF3" fill-opacity="0.4"/>
<path d="M865.2 174.5L866.7 176L863.7 176Z" fill="#A3A500" fill-opacity="0.45"/>
<rect x="862.9" y="175.8" width="4.6" height="4.8" fill="#5E8FA0" fill-opacity="0.75"/>
<rect x="863" y="175.8" width="4.4" height="4.8" rx="1.3" fill="#F5736B"/>
<path d="M898.29 157.87H902.09M898.29 160.51H902.09M900.19 157.87V160.51" stroke="#E2766C" stroke-width="1.15" fill="none"/>
<rect x="897.49" y="156.49" width="5.4" height="5.4" fill="#E76BF3" fill-opacity="0.4"/>
<path d="M900.19 155.49L901.69 156.99L898.69 156.99Z" fill="#A3A500" fill-opacity="0.45"/>
<rect x="897.89" y="156.79" width="4.6" height="4.8" fill="#5E8FA0" fill-opacity="0.75"/>
<rect x="897.99" y="156.79" width="4.4" height="4.8" rx="1.3" fill="#F5736B"/>
<path d="M933.28 123.28H937.08M933.28 137.54H937.08M935.18 123.28V137.54" stroke="#E2766C" stroke-width="1.15" fill="none"/>
<rect x="932.48" y="127.71" width="5.4" height="5.4" fill="#E76BF3" fill-opacity="0.4"/>
<path d="M935.18 126.71L936.68 128.21L933.68 128.21Z" fill="#A3A500" fill-opacity="0.45"/>
<rect x="932.88" y="128.01" width="4.6" height="4.8" fill="#5E8FA0" fill-opacity="0.75"/>
<rect x="932.98" y="128.01" width="4.4" height="4.8" rx="1.3" fill="#F5736B"/>
<path d="M968.27 62.56H972.07M968.27 98.2H972.07M970.17 62.56V98.2" stroke="#E2766C" stroke-width="1.15" fill="none"/>
<rect x="967.47" y="77.68" width="5.4" height="5.4" fill="#E76BF3" fill-opacity="0.4"/>
<path d="M970.17 76.68L971.67 78.18L968.67 78.18Z" fill="#A3A500" fill-opacity="0.45"/>
<rect x="967.87" y="77.98" width="4.6" height="4.8" fill="#5E8FA0" fill-opacity="0.75"/>
<rect x="967.97" y="77.98" width="4.4" height="4.8" rx="1.3" fill="#F5736B"/>
<path d="M828.61 178.33H831.81" stroke="#1FB5F6" stroke-width="1.4" fill="none"/>
<path d="M827.01 178.33H833.41M830.21 175.13V181.53" stroke="#1FB5F6" stroke-width="0.95" fill="none"/>
<path d="M863.6 179.38H866.8" stroke="#1FB5F6" stroke-width="1.4" fill="none"/>
<path d="M862 179.38H868.4M865.2 176.18V182.58" stroke="#1FB5F6" stroke-width="0.95" fill="none"/>
<path d="M898.59 176.22H901.79" stroke="#1FB5F6" stroke-width="1.4" fill="none"/>
<path d="M896.99 176.22H903.39M900.19 173.02V179.42" stroke="#1FB5F6" stroke-width="0.95" fill="none"/>
<path d="M933.28 167.37H937.08M933.28 170.01H937.08M935.18 167.37V170.01" stroke="#1FB5F6" stroke-width="1" fill="none"/>
<path d="M931.98 168.69H938.38M935.18 165.49V171.89" stroke="#1FB5F6" stroke-width="0.95" fill="none"/>
<path d="M968.27 169.35H972.07M968.27 171.46H972.07M970.17 169.35V171.46" stroke="#1FB5F6" stroke-width="1" fill="none"/>
<path d="M966.97 170.41H973.37M970.17 167.21V173.61" stroke="#1FB5F6" stroke-width="0.95" fill="none"/>
<g font-family="'Liberation Sans', Arial, Helvetica, sans-serif" font-size="14" fill="#4d4d4d" text-anchor="end">
<line x1="818.7" y1="184.4" x2="821.5" y2="184.4" stroke="#333" stroke-width="0.8"/>
<text x="816.9" y="190.2">0</text>
<line x1="818.7" y1="171.2" x2="821.5" y2="171.2" stroke="#333" stroke-width="0.8"/>
<text x="816.9" y="177">1</text>
<line x1="818.7" y1="158" x2="821.5" y2="158" stroke="#333" stroke-width="0.8"/>
<text x="816.9" y="163.8">2</text>
<line x1="818.7" y1="144.8" x2="821.5" y2="144.8" stroke="#333" stroke-width="0.8"/>
<text x="816.9" y="150.6">3</text>
<line x1="818.7" y1="131.6" x2="821.5" y2="131.6" stroke="#333" stroke-width="0.8"/>
<text x="816.9" y="137.4">4</text>
<line x1="818.7" y1="118.4" x2="821.5" y2="118.4" stroke="#333" stroke-width="0.8"/>
<text x="816.9" y="124.2">5</text>
<line x1="818.7" y1="105.2" x2="821.5" y2="105.2" stroke="#333" stroke-width="0.8"/>
<text x="816.9" y="111">6</text>
<line x1="818.7" y1="92" x2="821.5" y2="92" stroke="#333" stroke-width="0.8"/>
<text x="816.9" y="97.8">7</text>
<line x1="818.7" y1="78.8" x2="821.5" y2="78.8" stroke="#333" stroke-width="0.8"/>
<text x="816.9" y="84.6">8</text>
<line x1="818.7" y1="65.6" x2="821.5" y2="65.6" stroke="#333" stroke-width="0.8"/>
<text x="816.9" y="71.4">9</text>
</g>
<path d="M984.5 57V189.5" stroke="#333" stroke-width="0.5"/>
<path d="M1142.2 57V189.5" stroke="#333" stroke-width="0.4"/>
<path d="M984.5 57H1142.2" stroke="#333" stroke-width="0.33"/>
<path d="M984.5 189.5H1142.2" stroke="#333" stroke-width="0.5"/>
<polyline points="993.21,179.38 1028.17,180.7 1063.14,175.95 1098.11,164.07 1133.07,148.89" fill="none" stroke="#F8766D" stroke-width="0.66"/>
<polyline points="993.21,179.38 1028.17,180.7 1063.14,175.95 1098.11,164.07 1133.07,148.89" fill="none" stroke="#A3A500" stroke-width="0.66" stroke-dasharray="1.95 1.95"/>
<polyline points="993.21,179.38 1028.17,180.7 1063.14,175.95 1098.11,164.07 1133.07,148.89" fill="none" stroke="#00BF7D" stroke-width="0.66" stroke-dasharray="3.9 1.95"/>
<polyline points="993.21,179.38 1028.17,180.97 1063.14,178.2 1098.11,166.98 1133.07,145.59" fill="none" stroke="#1FB5F6" stroke-width="0.8" stroke-dasharray="3.9 3.9"/>
<polyline points="993.21,179.38 1028.17,180.7 1063.14,175.95 1098.11,164.07 1133.07,148.89" fill="none" stroke="#E76BF3" stroke-width="0.66" stroke-dasharray="0.98 2.93"/>
<rect x="990.51" y="176.68" width="5.4" height="5.4" fill="#E76BF3" fill-opacity="0.4"/>
<path d="M993.21 175.68L994.71 177.18L991.71 177.18Z" fill="#A3A500" fill-opacity="0.45"/>
<rect x="990.91" y="176.98" width="4.6" height="4.8" fill="#5E8FA0" fill-opacity="0.75"/>
<rect x="991.01" y="176.98" width="4.4" height="4.8" rx="1.3" fill="#F5736B"/>
<rect x="1025.47" y="178" width="5.4" height="5.4" fill="#E76BF3" fill-opacity="0.4"/>
<path d="M1028.17 177L1029.67 178.5L1026.67 178.5Z" fill="#A3A500" fill-opacity="0.45"/>
<rect x="1025.87" y="178.3" width="4.6" height="4.8" fill="#5E8FA0" fill-opacity="0.75"/>
<rect x="1025.97" y="178.3" width="4.4" height="4.8" rx="1.3" fill="#F5736B"/>
<rect x="1060.44" y="173.25" width="5.4" height="5.4" fill="#E76BF3" fill-opacity="0.4"/>
<path d="M1063.14 172.25L1064.64 173.75L1061.64 173.75Z" fill="#A3A500" fill-opacity="0.45"/>
<rect x="1060.84" y="173.55" width="4.6" height="4.8" fill="#5E8FA0" fill-opacity="0.75"/>
<rect x="1060.94" y="173.55" width="4.4" height="4.8" rx="1.3" fill="#F5736B"/>
<rect x="1095.41" y="161.37" width="5.4" height="5.4" fill="#E76BF3" fill-opacity="0.4"/>
<path d="M1098.11 160.37L1099.61 161.87L1096.61 161.87Z" fill="#A3A500" fill-opacity="0.45"/>
<rect x="1095.81" y="161.67" width="4.6" height="4.8" fill="#5E8FA0" fill-opacity="0.75"/>
<rect x="1095.91" y="161.67" width="4.4" height="4.8" rx="1.3" fill="#F5736B"/>
<path d="M1131.17 147.57H1134.97M1131.17 150.21H1134.97M1133.07 147.57V150.21" stroke="#E2766C" stroke-width="1.15" fill="none"/>
<rect x="1130.37" y="146.19" width="5.4" height="5.4" fill="#E76BF3" fill-opacity="0.4"/>
<path d="M1133.07 145.19L1134.57 146.69L1131.57 146.69Z" fill="#A3A500" fill-opacity="0.45"/>
<rect x="1130.77" y="146.49" width="4.6" height="4.8" fill="#5E8FA0" fill-opacity="0.75"/>
<rect x="1130.87" y="146.49" width="4.4" height="4.8" rx="1.3" fill="#F5736B"/>
<path d="M991.61 179.38H994.81" stroke="#1FB5F6" stroke-width="1.4" fill="none"/>
<path d="M990.01 179.38H996.41M993.21 176.18V182.58" stroke="#1FB5F6" stroke-width="0.95" fill="none"/>
<path d="M1026.57 180.97H1029.77" stroke="#1FB5F6" stroke-width="1.4" fill="none"/>
<path d="M1024.97 180.97H1031.37M1028.17 177.77V184.17" stroke="#1FB5F6" stroke-width="0.95" fill="none"/>
<path d="M1061.54 178.2H1064.74" stroke="#1FB5F6" stroke-width="1.4" fill="none"/>
<path d="M1059.94 178.2H1066.34M1063.14 175V181.4" stroke="#1FB5F6" stroke-width="0.95" fill="none"/>
<path d="M1096.51 166.98H1099.71" stroke="#1FB5F6" stroke-width="1.4" fill="none"/>
<path d="M1094.91 166.98H1101.31M1098.11 163.78V170.18" stroke="#1FB5F6" stroke-width="0.95" fill="none"/>
<path d="M1131.17 144.27H1134.97M1131.17 146.91H1134.97M1133.07 144.27V146.91" stroke="#1FB5F6" stroke-width="1" fill="none"/>
<path d="M1129.87 145.59H1136.27M1133.07 142.39V148.79" stroke="#1FB5F6" stroke-width="0.95" fill="none"/>
<path d="M821.5 195V326.6" stroke="#333" stroke-width="0.5"/>
<path d="M979.3 195V326.6" stroke="#333" stroke-width="0.43"/>
<path d="M821.5 195H979.3" stroke="#333" stroke-width="0.33"/>
<path d="M821.5 326.6H979.3" stroke="#333" stroke-width="0.47"/>
<polyline points="830.21,315.6 865.2,316.65 900.19,309.39 935.18,296.46 970.17,282.2" fill="none" stroke="#F8766D" stroke-width="0.66"/>
<polyline points="830.21,315.6 865.2,316.65 900.19,309.39 935.18,296.46 970.17,282.2" fill="none" stroke="#A3A500" stroke-width="0.66" stroke-dasharray="1.95 1.95"/>
<polyline points="830.21,315.6 865.2,316.65 900.19,309.39 935.18,296.46 970.17,282.2" fill="none" stroke="#00BF7D" stroke-width="0.66" stroke-dasharray="3.9 1.95"/>
<polyline points="830.21,315.6 865.2,318.37 900.19,318.76 935.18,312.69 970.17,307.41" fill="none" stroke="#1FB5F6" stroke-width="0.8" stroke-dasharray="3.9 3.9"/>
<polyline points="830.21,315.6 865.2,316.65 900.19,309.39 935.18,296.46 970.17,282.2" fill="none" stroke="#E76BF3" stroke-width="0.66" stroke-dasharray="0.98 2.93"/>
<rect x="827.51" y="312.9" width="5.4" height="5.4" fill="#E76BF3" fill-opacity="0.4"/>
<path d="M830.21 311.9L831.71 313.4L828.71 313.4Z" fill="#A3A500" fill-opacity="0.45"/>
<rect x="827.91" y="313.2" width="4.6" height="4.8" fill="#5E8FA0" fill-opacity="0.75"/>
<rect x="828.01" y="313.2" width="4.4" height="4.8" rx="1.3" fill="#F5736B"/>
<rect x="862.5" y="313.95" width="5.4" height="5.4" fill="#E76BF3" fill-opacity="0.4"/>
<path d="M865.2 312.95L866.7 314.45L863.7 314.45Z" fill="#A3A500" fill-opacity="0.45"/>
<rect x="862.9" y="314.25" width="4.6" height="4.8" fill="#5E8FA0" fill-opacity="0.75"/>
<rect x="863" y="314.25" width="4.4" height="4.8" rx="1.3" fill="#F5736B"/>
<rect x="897.49" y="306.69" width="5.4" height="5.4" fill="#E76BF3" fill-opacity="0.4"/>
<path d="M900.19 305.69L901.69 307.19L898.69 307.19Z" fill="#A3A500" fill-opacity="0.45"/>
<rect x="897.89" y="306.99" width="4.6" height="4.8" fill="#5E8FA0" fill-opacity="0.75"/>
<rect x="897.99" y="306.99" width="4.4" height="4.8" rx="1.3" fill="#F5736B"/>
<rect x="932.48" y="293.76" width="5.4" height="5.4" fill="#E76BF3" fill-opacity="0.4"/>
<path d="M935.18 292.76L936.68 294.26L933.68 294.26Z" fill="#A3A500" fill-opacity="0.45"/>
<rect x="932.88" y="294.06" width="4.6" height="4.8" fill="#5E8FA0" fill-opacity="0.75"/>
<rect x="932.98" y="294.06" width="4.4" height="4.8" rx="1.3" fill="#F5736B"/>
<path d="M968.27 278.24H972.07M968.27 286.16H972.07M970.17 278.24V286.16" stroke="#E2766C" stroke-width="1.15" fill="none"/>
<rect x="967.47" y="279.5" width="5.4" height="5.4" fill="#E76BF3" fill-opacity="0.4"/>
<path d="M970.17 278.5L971.67 280L968.67 280Z" fill="#A3A500" fill-opacity="0.45"/>
<rect x="967.87" y="279.8" width="4.6" height="4.8" fill="#5E8FA0" fill-opacity="0.75"/>
<rect x="967.97" y="279.8" width="4.4" height="4.8" rx="1.3" fill="#F5736B"/>
<path d="M828.61 315.6H831.81" stroke="#1FB5F6" stroke-width="1.4" fill="none"/>
<path d="M827.01 315.6H833.41M830.21 312.4V318.8" stroke="#1FB5F6" stroke-width="0.95" fill="none"/>
<path d="M863.6 318.37H866.8" stroke="#1FB5F6" stroke-width="1.4" fill="none"/>
<path d="M862 318.37H868.4M865.2 315.17V321.57" stroke="#1FB5F6" stroke-width="0.95" fill="none"/>
<path d="M898.59 318.76H901.79" stroke="#1FB5F6" stroke-width="1.4" fill="none"/>
<path d="M896.99 318.76H903.39M900.19 315.56V321.96" stroke="#1FB5F6" stroke-width="0.95" fill="none"/>
<path d="M933.58 312.69H936.78" stroke="#1FB5F6" stroke-width="1.4" fill="none"/>
<path d="M931.98 312.69H938.38M935.18 309.49V315.89" stroke="#1FB5F6" stroke-width="0.95" fill="none"/>
<path d="M968.27 306.36H972.07M968.27 308.47H972.07M970.17 306.36V308.47" stroke="#1FB5F6" stroke-width="1" fill="none"/>
<path d="M966.97 307.41H973.37M970.17 304.21V310.61" stroke="#1FB5F6" stroke-width="0.95" fill="none"/>
<g font-family="'Liberation Sans', Arial, Helvetica, sans-serif" font-size="14" fill="#4d4d4d" text-anchor="end">
<line x1="818.7" y1="321.8" x2="821.5" y2="321.8" stroke="#333" stroke-width="0.8"/>
<text x="816.9" y="327.6">0</text>
<line x1="818.7" y1="308.6" x2="821.5" y2="308.6" stroke="#333" stroke-width="0.8"/>
<text x="816.9" y="314.4">1</text>
<line x1="818.7" y1="295.4" x2="821.5" y2="295.4" stroke="#333" stroke-width="0.8"/>
<text x="816.9" y="301.2">2</text>
<line x1="818.7" y1="282.2" x2="821.5" y2="282.2" stroke="#333" stroke-width="0.8"/>
<text x="816.9" y="288">3</text>
<line x1="818.7" y1="269" x2="821.5" y2="269" stroke="#333" stroke-width="0.8"/>
<text x="816.9" y="274.8">4</text>
<line x1="818.7" y1="255.8" x2="821.5" y2="255.8" stroke="#333" stroke-width="0.8"/>
<text x="816.9" y="261.6">5</text>
<line x1="818.7" y1="242.6" x2="821.5" y2="242.6" stroke="#333" stroke-width="0.8"/>
<text x="816.9" y="248.4">6</text>
<line x1="818.7" y1="229.4" x2="821.5" y2="229.4" stroke="#333" stroke-width="0.8"/>
<text x="816.9" y="235.2">7</text>
<line x1="818.7" y1="216.2" x2="821.5" y2="216.2" stroke="#333" stroke-width="0.8"/>
<text x="816.9" y="222">8</text>
<line x1="818.7" y1="203" x2="821.5" y2="203" stroke="#333" stroke-width="0.8"/>
<text x="816.9" y="208.8">9</text>
</g>
<path d="M984.5 195V326.6" stroke="#333" stroke-width="0.5"/>
<path d="M1142.2 195V326.6" stroke="#333" stroke-width="0.4"/>
<path d="M984.5 195H1142.2" stroke="#333" stroke-width="0.33"/>
<path d="M984.5 326.6H1142.2" stroke="#333" stroke-width="0.47"/>
<polyline points="993.21,316.65 1028.17,318.1 1063.14,317.05 1098.11,312.16 1133.07,306.75" fill="none" stroke="#F8766D" stroke-width="0.66"/>
<polyline points="993.21,316.65 1028.17,318.1 1063.14,317.05 1098.11,312.16 1133.07,306.75" fill="none" stroke="#A3A500" stroke-width="0.66" stroke-dasharray="1.95 1.95"/>
<polyline points="993.21,316.65 1028.17,318.1 1063.14,317.05 1098.11,312.16 1133.07,306.75" fill="none" stroke="#00BF7D" stroke-width="0.66" stroke-dasharray="3.9 1.95"/>
<polyline points="993.21,316.65 1028.17,319.03 1063.14,320.61 1098.11,317.84 1133.07,312.56" fill="none" stroke="#1FB5F6" stroke-width="0.8" stroke-dasharray="3.9 3.9"/>
<polyline points="993.21,316.65 1028.17,318.1 1063.14,317.05 1098.11,312.16 1133.07,306.75" fill="none" stroke="#E76BF3" stroke-width="0.66" stroke-dasharray="0.98 2.93"/>
<rect x="990.51" y="313.95" width="5.4" height="5.4" fill="#E76BF3" fill-opacity="0.4"/>
<path d="M993.21 312.95L994.71 314.45L991.71 314.45Z" fill="#A3A500" fill-opacity="0.45"/>
<rect x="990.91" y="314.25" width="4.6" height="4.8" fill="#5E8FA0" fill-opacity="0.75"/>
<rect x="991.01" y="314.25" width="4.4" height="4.8" rx="1.3" fill="#F5736B"/>
<rect x="1025.47" y="315.4" width="5.4" height="5.4" fill="#E76BF3" fill-opacity="0.4"/>
<path d="M1028.17 314.4L1029.67 315.9L1026.67 315.9Z" fill="#A3A500" fill-opacity="0.45"/>
<rect x="1025.87" y="315.7" width="4.6" height="4.8" fill="#5E8FA0" fill-opacity="0.75"/>
<rect x="1025.97" y="315.7" width="4.4" height="4.8" rx="1.3" fill="#F5736B"/>
<rect x="1060.44" y="314.35" width="5.4" height="5.4" fill="#E76BF3" fill-opacity="0.4"/>
<path d="M1063.14 313.35L1064.64 314.85L1061.64 314.85Z" fill="#A3A500" fill-opacity="0.45"/>
<rect x="1060.84" y="314.65" width="4.6" height="4.8" fill="#5E8FA0" fill-opacity="0.75"/>
<rect x="1060.94" y="314.65" width="4.4" height="4.8" rx="1.3" fill="#F5736B"/>
<rect x="1095.41" y="309.46" width="5.4" height="5.4" fill="#E76BF3" fill-opacity="0.4"/>
<path d="M1098.11 308.46L1099.61 309.96L1096.61 309.96Z" fill="#A3A500" fill-opacity="0.45"/>
<rect x="1095.81" y="309.76" width="4.6" height="4.8" fill="#5E8FA0" fill-opacity="0.75"/>
<rect x="1095.91" y="309.76" width="4.4" height="4.8" rx="1.3" fill="#F5736B"/>
<rect x="1130.37" y="304.05" width="5.4" height="5.4" fill="#E76BF3" fill-opacity="0.4"/>
<path d="M1133.07 303.05L1134.57 304.55L1131.57 304.55Z" fill="#A3A500" fill-opacity="0.45"/>
<rect x="1130.77" y="304.35" width="4.6" height="4.8" fill="#5E8FA0" fill-opacity="0.75"/>
<rect x="1130.87" y="304.35" width="4.4" height="4.8" rx="1.3" fill="#F5736B"/>
<path d="M991.61 316.65H994.81" stroke="#1FB5F6" stroke-width="1.4" fill="none"/>
<path d="M990.01 316.65H996.41M993.21 313.45V319.85" stroke="#1FB5F6" stroke-width="0.95" fill="none"/>
<path d="M1026.57 319.03H1029.77" stroke="#1FB5F6" stroke-width="1.4" fill="none"/>
<path d="M1024.97 319.03H1031.37M1028.17 315.83V322.23" stroke="#1FB5F6" stroke-width="0.95" fill="none"/>
<path d="M1061.54 320.61H1064.74" stroke="#1FB5F6" stroke-width="1.4" fill="none"/>
<path d="M1059.94 320.61H1066.34M1063.14 317.41V323.81" stroke="#1FB5F6" stroke-width="0.95" fill="none"/>
<path d="M1096.51 317.84H1099.71" stroke="#1FB5F6" stroke-width="1.4" fill="none"/>
<path d="M1094.91 317.84H1101.31M1098.11 314.64V321.04" stroke="#1FB5F6" stroke-width="0.95" fill="none"/>
<path d="M1131.47 312.56H1134.67" stroke="#1FB5F6" stroke-width="1.4" fill="none"/>
<path d="M1129.87 312.56H1136.27M1133.07 309.36V315.76" stroke="#1FB5F6" stroke-width="0.95" fill="none"/>
<path d="M821.5 332.5V464.2" stroke="#333" stroke-width="0.5"/>
<path d="M979.3 332.5V464.2" stroke="#333" stroke-width="0.43"/>
<path d="M821.5 332.5H979.3" stroke="#333" stroke-width="0.5"/>
<path d="M821.5 464.2H979.3" stroke="#333" stroke-width="0.4"/>
<polyline points="830.21,453.33 865.2,454.65 900.19,447.39 935.18,435.51 970.17,423.89" fill="none" stroke="#F8766D" stroke-width="0.66"/>
<polyline points="830.21,453.33 865.2,454.65 900.19,447.39 935.18,435.51 970.17,423.89" fill="none" stroke="#A3A500" stroke-width="0.66" stroke-dasharray="1.95 1.95"/>
<polyline points="830.21,453.33 865.2,454.65 900.19,447.39 935.18,435.51 970.17,423.89" fill="none" stroke="#00BF7D" stroke-width="0.66" stroke-dasharray="3.9 1.95"/>
<polyline points="830.21,453.33 865.2,455.84 900.19,457.29 935.18,452.93 970.17,447.78" fill="none" stroke="#1FB5F6" stroke-width="0.8" stroke-dasharray="3.9 3.9"/>
<polyline points="830.21,453.33 865.2,454.65 900.19,447.39 935.18,435.51 970.17,423.89" fill="none" stroke="#E76BF3" stroke-width="0.66" stroke-dasharray="0.98 2.93"/>
<rect x="827.51" y="450.63" width="5.4" height="5.4" fill="#E76BF3" fill-opacity="0.4"/>
<path d="M830.21 449.63L831.71 451.13L828.71 451.13Z" fill="#A3A500" fill-opacity="0.45"/>
<rect x="827.91" y="450.93" width="4.6" height="4.8" fill="#5E8FA0" fill-opacity="0.75"/>
<rect x="828.01" y="450.93" width="4.4" height="4.8" rx="1.3" fill="#F5736B"/>
<rect x="862.5" y="451.95" width="5.4" height="5.4" fill="#E76BF3" fill-opacity="0.4"/>
<path d="M865.2 450.95L866.7 452.45L863.7 452.45Z" fill="#A3A500" fill-opacity="0.45"/>
<rect x="862.9" y="452.25" width="4.6" height="4.8" fill="#5E8FA0" fill-opacity="0.75"/>
<rect x="863" y="452.25" width="4.4" height="4.8" rx="1.3" fill="#F5736B"/>
<rect x="897.49" y="444.69" width="5.4" height="5.4" fill="#E76BF3" fill-opacity="0.4"/>
<path d="M900.19 443.69L901.69 445.19L898.69 445.19Z" fill="#A3A500" fill-opacity="0.45"/>
<rect x="897.89" y="444.99" width="4.6" height="4.8" fill="#5E8FA0" fill-opacity="0.75"/>
<rect x="897.99" y="444.99" width="4.4" height="4.8" rx="1.3" fill="#F5736B"/>
<rect x="932.48" y="432.81" width="5.4" height="5.4" fill="#E76BF3" fill-opacity="0.4"/>
<path d="M935.18 431.81L936.68 433.31L933.68 433.31Z" fill="#A3A500" fill-opacity="0.45"/>
<rect x="932.88" y="433.11" width="4.6" height="4.8" fill="#5E8FA0" fill-opacity="0.75"/>
<rect x="932.98" y="433.11" width="4.4" height="4.8" rx="1.3" fill="#F5736B"/>
<path d="M968.27 420.33H972.07M968.27 427.46H972.07M970.17 420.33V427.46" stroke="#E2766C" stroke-width="1.15" fill="none"/>
<rect x="967.47" y="421.19" width="5.4" height="5.4" fill="#E76BF3" fill-opacity="0.4"/>
<path d="M970.17 420.19L971.67 421.69L968.67 421.69Z" fill="#A3A500" fill-opacity="0.45"/>
<rect x="967.87" y="421.49" width="4.6" height="4.8" fill="#5E8FA0" fill-opacity="0.75"/>
<rect x="967.97" y="421.49" width="4.4" height="4.8" rx="1.3" fill="#F5736B"/>
<path d="M828.61 453.33H831.81" stroke="#1FB5F6" stroke-width="1.4" fill="none"/>
<path d="M827.01 453.33H833.41M830.21 450.13V456.53" stroke="#1FB5F6" stroke-width="0.95" fill="none"/>
<path d="M863.6 455.84H866.8" stroke="#1FB5F6" stroke-width="1.4" fill="none"/>
<path d="M862 455.84H868.4M865.2 452.64V459.04" stroke="#1FB5F6" stroke-width="0.95" fill="none"/>
<path d="M898.59 457.29H901.79" stroke="#1FB5F6" stroke-width="1.4" fill="none"/>
<path d="M896.99 457.29H903.39M900.19 454.09V460.49" stroke="#1FB5F6" stroke-width="0.95" fill="none"/>
<path d="M933.58 452.93H936.78" stroke="#1FB5F6" stroke-width="1.4" fill="none"/>
<path d="M931.98 452.93H938.38M935.18 449.73V456.13" stroke="#1FB5F6" stroke-width="0.95" fill="none"/>
<path d="M968.27 446.99H972.07M968.27 448.58H972.07M970.17 446.99V448.58" stroke="#1FB5F6" stroke-width="1" fill="none"/>
<path d="M966.97 447.78H973.37M970.17 444.58V450.98" stroke="#1FB5F6" stroke-width="0.95" fill="none"/>
<g font-family="'Liberation Sans', Arial, Helvetica, sans-serif" font-size="14" fill="#4d4d4d" text-anchor="end">
<line x1="818.7" y1="459.4" x2="821.5" y2="459.4" stroke="#333" stroke-width="0.8"/>
<text x="816.9" y="465.2">0</text>
<line x1="818.7" y1="446.2" x2="821.5" y2="446.2" stroke="#333" stroke-width="0.8"/>
<text x="816.9" y="452">1</text>
<line x1="818.7" y1="433" x2="821.5" y2="433" stroke="#333" stroke-width="0.8"/>
<text x="816.9" y="438.8">2</text>
<line x1="818.7" y1="419.8" x2="821.5" y2="419.8" stroke="#333" stroke-width="0.8"/>
<text x="816.9" y="425.6">3</text>
<line x1="818.7" y1="406.6" x2="821.5" y2="406.6" stroke="#333" stroke-width="0.8"/>
<text x="816.9" y="412.4">4</text>
<line x1="818.7" y1="393.4" x2="821.5" y2="393.4" stroke="#333" stroke-width="0.8"/>
<text x="816.9" y="399.2">5</text>
<line x1="818.7" y1="380.2" x2="821.5" y2="380.2" stroke="#333" stroke-width="0.8"/>
<text x="816.9" y="386">6</text>
<line x1="818.7" y1="367" x2="821.5" y2="367" stroke="#333" stroke-width="0.8"/>
<text x="816.9" y="372.8">7</text>
<line x1="818.7" y1="353.8" x2="821.5" y2="353.8" stroke="#333" stroke-width="0.8"/>
<text x="816.9" y="359.6">8</text>
<line x1="818.7" y1="340.6" x2="821.5" y2="340.6" stroke="#333" stroke-width="0.8"/>
<text x="816.9" y="346.4">9</text>
</g>
<g font-family="'Liberation Sans', Arial, Helvetica, sans-serif" font-size="14" fill="#4d4d4d" text-anchor="middle">
<line x1="830.21" y1="464.2" x2="830.21" y2="467" stroke="#333" stroke-width="0.8"/>
<text x="830.21" y="479.4">1</text>
<line x1="865.2" y1="464.2" x2="865.2" y2="467" stroke="#333" stroke-width="0.8"/>
<text x="865.2" y="479.4">2</text>
<line x1="900.19" y1="464.2" x2="900.19" y2="467" stroke="#333" stroke-width="0.8"/>
<text x="900.19" y="479.4">3</text>
<line x1="935.18" y1="464.2" x2="935.18" y2="467" stroke="#333" stroke-width="0.8"/>
<text x="935.18" y="479.4">4</text>
<line x1="970.17" y1="464.2" x2="970.17" y2="467" stroke="#333" stroke-width="0.8"/>
<text x="970.17" y="479.4">5</text>
</g>
<path d="M984.5 332.5V464.2" stroke="#333" stroke-width="0.5"/>
<path d="M1142.2 332.5V464.2" stroke="#333" stroke-width="0.4"/>
<path d="M984.5 332.5H1142.2" stroke="#333" stroke-width="0.5"/>
<path d="M984.5 464.2H1142.2" stroke="#333" stroke-width="0.4"/>
<polyline points="993.21,454.65 1028.17,456.36 1063.14,455.97 1098.11,454.25 1133.07,451.35" fill="none" stroke="#F8766D" stroke-width="0.66"/>
<polyline points="993.21,454.65 1028.17,456.36 1063.14,455.97 1098.11,454.25 1133.07,451.35" fill="none" stroke="#A3A500" stroke-width="0.66" stroke-dasharray="1.95 1.95"/>
<polyline points="993.21,454.65 1028.17,456.36 1063.14,455.97 1098.11,454.25 1133.07,451.35" fill="none" stroke="#00BF7D" stroke-width="0.66" stroke-dasharray="3.9 1.95"/>
<polyline points="993.21,454.65 1028.17,456.36 1063.14,458.34 1098.11,456.36 1133.07,453.46" fill="none" stroke="#1FB5F6" stroke-width="0.8" stroke-dasharray="3.9 3.9"/>
<polyline points="993.21,454.65 1028.17,456.36 1063.14,455.97 1098.11,454.25 1133.07,451.35" fill="none" stroke="#E76BF3" stroke-width="0.66" stroke-dasharray="0.98 2.93"/>
<rect x="990.51" y="451.95" width="5.4" height="5.4" fill="#E76BF3" fill-opacity="0.4"/>
<path d="M993.21 450.95L994.71 452.45L991.71 452.45Z" fill="#A3A500" fill-opacity="0.45"/>
<rect x="990.91" y="452.25" width="4.6" height="4.8" fill="#5E8FA0" fill-opacity="0.75"/>
<rect x="991.01" y="452.25" width="4.4" height="4.8" rx="1.3" fill="#F5736B"/>
<rect x="1025.47" y="453.66" width="5.4" height="5.4" fill="#E76BF3" fill-opacity="0.4"/>
<path d="M1028.17 452.66L1029.67 454.16L1026.67 454.16Z" fill="#A3A500" fill-opacity="0.45"/>
<rect x="1025.87" y="453.96" width="4.6" height="4.8" fill="#5E8FA0" fill-opacity="0.75"/>
<rect x="1025.97" y="453.96" width="4.4" height="4.8" rx="1.3" fill="#F5736B"/>
<rect x="1060.44" y="453.27" width="5.4" height="5.4" fill="#E76BF3" fill-opacity="0.4"/>
<path d="M1063.14 452.27L1064.64 453.77L1061.64 453.77Z" fill="#A3A500" fill-opacity="0.45"/>
<rect x="1060.84" y="453.57" width="4.6" height="4.8" fill="#5E8FA0" fill-opacity="0.75"/>
<rect x="1060.94" y="453.57" width="4.4" height="4.8" rx="1.3" fill="#F5736B"/>
<rect x="1095.41" y="451.55" width="5.4" height="5.4" fill="#E76BF3" fill-opacity="0.4"/>
<path d="M1098.11 450.55L1099.61 452.05L1096.61 452.05Z" fill="#A3A500" fill-opacity="0.45"/>
<rect x="1095.81" y="451.85" width="4.6" height="4.8" fill="#5E8FA0" fill-opacity="0.75"/>
<rect x="1095.91" y="451.85" width="4.4" height="4.8" rx="1.3" fill="#F5736B"/>
<rect x="1130.37" y="448.65" width="5.4" height="5.4" fill="#E76BF3" fill-opacity="0.4"/>
<path d="M1133.07 447.65L1134.57 449.15L1131.57 449.15Z" fill="#A3A500" fill-opacity="0.45"/>
<rect x="1130.77" y="448.95" width="4.6" height="4.8" fill="#5E8FA0" fill-opacity="0.75"/>
<rect x="1130.87" y="448.95" width="4.4" height="4.8" rx="1.3" fill="#F5736B"/>
<path d="M991.61 454.65H994.81" stroke="#1FB5F6" stroke-width="1.4" fill="none"/>
<path d="M990.01 454.65H996.41M993.21 451.45V457.85" stroke="#1FB5F6" stroke-width="0.95" fill="none"/>
<path d="M1026.57 456.36H1029.77" stroke="#1FB5F6" stroke-width="1.4" fill="none"/>
<path d="M1024.97 456.36H1031.37M1028.17 453.16V459.56" stroke="#1FB5F6" stroke-width="0.95" fill="none"/>
<path d="M1061.54 458.34H1064.74" stroke="#1FB5F6" stroke-width="1.4" fill="none"/>
<path d="M1059.94 458.34H1066.34M1063.14 455.14V461.54" stroke="#1FB5F6" stroke-width="0.95" fill="none"/>
<path d="M1096.51 456.36H1099.71" stroke="#1FB5F6" stroke-width="1.4" fill="none"/>
<path d="M1094.91 456.36H1101.31M1098.11 453.16V459.56" stroke="#1FB5F6" stroke-width="0.95" fill="none"/>
<path d="M1131.47 453.46H1134.67" stroke="#1FB5F6" stroke-width="1.4" fill="none"/>
<path d="M1129.87 453.46H1136.27M1133.07 450.26V456.66" stroke="#1FB5F6" stroke-width="0.95" fill="none"/>
<g font-family="'Liberation Sans', Arial, Helvetica, sans-serif" font-size="14" fill="#4d4d4d" text-anchor="middle">
<line x1="993.21" y1="464.2" x2="993.21" y2="467" stroke="#333" stroke-width="0.8"/>
<text x="993.21" y="479.4">1</text>
<line x1="1028.17" y1="464.2" x2="1028.17" y2="467" stroke="#333" stroke-width="0.8"/>
<text x="1028.17" y="479.4">2</text>
<line x1="1063.14" y1="464.2" x2="1063.14" y2="467" stroke="#333" stroke-width="0.8"/>
<text x="1063.14" y="479.4">3</text>
<line x1="1098.11" y1="464.2" x2="1098.11" y2="467" stroke="#333" stroke-width="0.8"/>
<text x="1098.11" y="479.4">4</text>
<line x1="1133.07" y1="464.2" x2="1133.07" y2="467" stroke="#333" stroke-width="0.8"/>
<text x="1133.07" y="479.4">5</text>
</g>
<text x="981.55" y="497.2" text-anchor="middle" font-family="'Liberation Sans', Arial, Helvetica, sans-serif" font-size="17.7" fill="#000">dimensions (k)</text>
<text transform="translate(802.6 260.9) rotate(-90)" text-anchor="middle" font-family="'Liberation Sans', Arial, Helvetica, sans-serif" font-size="17.6" fill="#000">RMSE</text>
<text text-anchor="middle" font-family="'Liberation Serif', 'Times New Roman', serif" font-size="26.8" fill="#000"><tspan x="965.6" y="549.7" font-size="26.7">(</tspan><tspan x="975.75" y="550.0" font-weight="bold">c</tspan><tspan x="985.2" y="549.7" font-size="26.7">)</tspan></text>
</svg>
</body>
</html>
